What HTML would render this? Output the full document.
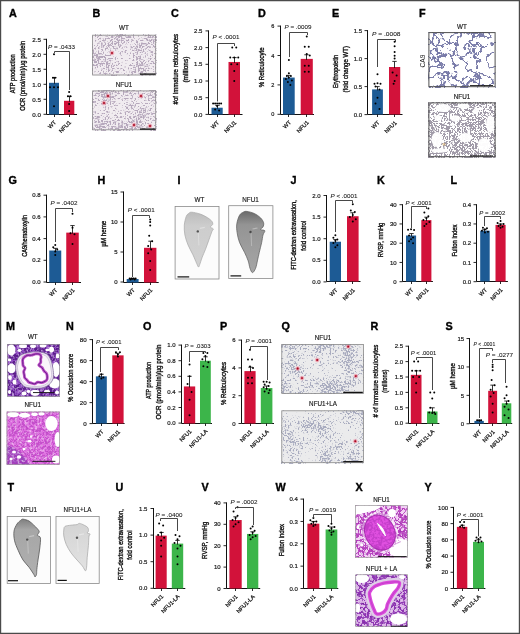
<!DOCTYPE html>
<html><head><meta charset="utf-8"><style>
html,body{margin:0;padding:0;background:#fff;}
svg{display:block;will-change:transform;filter:blur(0.3px);}
text{font-family:"Liberation Sans",sans-serif;fill:#1a1a1a;}
.pl{font-weight:bold;font-size:10.8px;fill:#000;stroke:#000;stroke-width:0.35px;}
.yl{stroke:#111;stroke-width:0.35px;fill:#111;}
.xl{stroke:#1a1a1a;stroke-width:0.25px;}
.pv{stroke:#1a1a1a;stroke-width:0.08px;}
.tk{stroke:#1a1a1a;stroke-width:0.2px;fill:#1a1a1a}
.im{stroke:#1a1a1a;stroke-width:0.15px;}
</style></head><body>
<svg width="520" height="634" viewBox="0 0 520 634">
<defs><filter id="smB" x="0" y="0" width="100%" height="100%" color-interpolation-filters="sRGB"><feTurbulence type="fractalNoise" baseFrequency="0.6" numOctaves="1" seed="11"/><feColorMatrix type="matrix" values="1 0 0 0 0  1 0 0 0 0  1 0 0 0 0  0 0 0 0 1" result="h"/><feTurbulence type="fractalNoise" baseFrequency="0.06" numOctaves="2" seed="18"/><feColorMatrix type="matrix" values="1 0 0 0 0  1 0 0 0 0  1 0 0 0 0  0 0 0 0 1" result="l"/><feComposite in="h" in2="l" operator="arithmetic" k1="0" k2="1" k3="0.4" k4="-0.4"/><feColorMatrix type="matrix" values="0 0 0 0 0  0 0 0 0 0  0 0 0 0 0  1 0 0 0 0"/><feComponentTransfer><feFuncA type="table" tableValues="0.00 0.00 0.00 0.00 0.00 0.00 0.00 0.00 0.00 0.00 0.00 0.00 0.00 0.00 0.00 0.00 0.06 0.18 0.29 0.41 0.53 0.64 0.70 0.70 0.70 0.70 0.70 0.70 0.70 0.70 0.70 0.70 0.70 0.70 0.70 0.70 0.70 0.70 0.70 0.70 0.70 0.70 0.70 0.70 0.70 0.70 0.70 0.70 0.70 0.70 0.70"/></feComponentTransfer><feGaussianBlur stdDeviation="0.2"/><feColorMatrix type="matrix" values="0 0 0 0 0.612  0 0 0 0 0.541  0 0 0 0 0.651  0 0 0 1 0"/></filter><filter id="smQ" x="0" y="0" width="100%" height="100%" color-interpolation-filters="sRGB"><feTurbulence type="fractalNoise" baseFrequency="0.6" numOctaves="1" seed="21"/><feColorMatrix type="matrix" values="1 0 0 0 0  1 0 0 0 0  1 0 0 0 0  0 0 0 0 1" result="h"/><feTurbulence type="fractalNoise" baseFrequency="0.05" numOctaves="2" seed="28"/><feColorMatrix type="matrix" values="1 0 0 0 0  1 0 0 0 0  1 0 0 0 0  0 0 0 0 1" result="l"/><feComposite in="h" in2="l" operator="arithmetic" k1="0" k2="1" k3="0.6" k4="-0.6"/><feColorMatrix type="matrix" values="0 0 0 0 0  0 0 0 0 0  0 0 0 0 0  1 0 0 0 0"/><feComponentTransfer><feFuncA type="table" tableValues="0.00 0.00 0.00 0.00 0.00 0.00 0.00 0.00 0.00 0.00 0.00 0.00 0.00 0.07 0.20 0.34 0.48 0.61 0.75 0.75 0.75 0.75 0.75 0.75 0.75 0.75 0.75 0.75 0.75 0.75 0.75 0.75 0.75 0.75 0.75 0.75 0.75 0.75 0.75 0.75 0.75 0.75 0.75 0.75 0.75 0.75 0.75 0.75 0.75 0.75 0.75"/></feComponentTransfer><feGaussianBlur stdDeviation="0.2"/><feColorMatrix type="matrix" values="0 0 0 0 0.573  0 0 0 0 0.588  0 0 0 0 0.690  0 0 0 1 0"/></filter><filter id="nWT" x="0" y="0" width="100%" height="100%" color-interpolation-filters="sRGB"><feTurbulence type="fractalNoise" baseFrequency="0.09" numOctaves="4" seed="3"/><feColorMatrix type="matrix" values="0 0 0 0 0  0 0 0 0 0  0 0 0 0 0  1 0 0 0 0"/><feComponentTransfer><feFuncA type="table" tableValues="0.00 0.00 0.00 0.00 0.00 0.00 0.00 0.00 0.00 0.00 0.00 0.00 0.00 0.00 0.00 0.00 0.00 0.00 0.00 0.00 0.00 0.00 0.00 0.00 0.00 0.00 0.00 0.00 0.71 0.85 0.85 0.85 0.71 0.00 0.00 0.00 0.00 0.00 0.00 0.00 0.00 0.00 0.00 0.00 0.00 0.00 0.00 0.00 0.00 0.00 0.00 0.00 0.00 0.00 0.00 0.00 0.00 0.00 0.00 0.00 0.00"/></feComponentTransfer><feGaussianBlur stdDeviation="0.25"/><feColorMatrix type="matrix" values="0 0 0 0 0.373  0 0 0 0 0.384  0 0 0 0 0.596  0 0 0 1 0"/></filter><filter id="nNF" x="0" y="0" width="100%" height="100%" color-interpolation-filters="sRGB"><feTurbulence type="fractalNoise" baseFrequency="0.38" numOctaves="2" seed="4"/><feColorMatrix type="matrix" values="0 0 0 0 0  0 0 0 0 0  0 0 0 0 0  1 0 0 0 0"/><feComponentTransfer><feFuncA type="table" tableValues="0.00 0.00 0.00 0.00 0.00 0.00 0.00 0.00 0.00 0.00 0.00 0.00 0.00 0.00 0.00 0.00 0.00 0.00 0.00 0.00 0.00 0.00 0.00 0.00 0.00 0.27 0.80 0.80 0.80 0.80 0.80 0.80 0.80 0.80 0.80 0.27 0.00 0.00 0.00 0.00 0.00 0.00 0.00 0.00 0.00 0.00 0.00 0.00 0.00 0.00 0.00 0.00 0.00 0.00 0.00 0.00 0.00 0.00 0.00 0.00 0.00"/></feComponentTransfer><feGaussianBlur stdDeviation="0.3"/><feColorMatrix type="matrix" values="0 0 0 0 0.541  0 0 0 0 0.510  0 0 0 0 0.580  0 0 0 1 0"/></filter><linearGradient id="lgD" x1="0" y1="0" x2="0" y2="1"><stop offset="0" stop-color="#6a6a6a"/><stop offset="0.22" stop-color="#949494"/><stop offset="1" stop-color="#a6a6a6"/></linearGradient><linearGradient id="lgT" x1="0" y1="0" x2="0" y2="1"><stop offset="0" stop-color="#808080"/><stop offset="0.18" stop-color="#a6a6a6"/><stop offset="1" stop-color="#b0b0b0"/></linearGradient><linearGradient id="lgL" x1="0" y1="0" x2="0" y2="1"><stop offset="0" stop-color="#bcbcbc"/><stop offset="0.25" stop-color="#cdcdcd"/><stop offset="1" stop-color="#d2d2d2"/></linearGradient><linearGradient id="lgLL" x1="0" y1="0" x2="0" y2="1"><stop offset="0" stop-color="#d4d4d4"/><stop offset="1" stop-color="#e2e2e2"/></linearGradient><filter id="heS" x="0" y="0" width="100%" height="100%" color-interpolation-filters="sRGB"><feTurbulence type="fractalNoise" baseFrequency="0.45" numOctaves="2" seed="5"/><feColorMatrix type="matrix" values="0 0 0 0 0  0 0 0 0 0  0 0 0 0 0  1 0 0 0 0"/><feComponentTransfer><feFuncA type="table" tableValues="0 0 0 0 0 0 0.3 0.8 1 1"/></feComponentTransfer><feColorMatrix type="matrix" values="0 0 0 0 0.290  0 0 0 0 0.063  0 0 0 0 0.439  0 0 0 1 0"/></filter><filter id="heL" x="0" y="0" width="100%" height="100%" color-interpolation-filters="sRGB"><feTurbulence type="fractalNoise" baseFrequency="0.4" numOctaves="2" seed="9"/><feColorMatrix type="matrix" values="0 0 0 0 0  0 0 0 0 0  0 0 0 0 0  1 0 0 0 0"/><feComponentTransfer><feFuncA type="table" tableValues="1 1 1 0.75 0.25 0 0 0 0 0"/></feComponentTransfer><feColorMatrix type="matrix" values="0 0 0 0 1.000  0 0 0 0 1.000  0 0 0 0 1.000  0 0 0 1 0"/></filter><filter id="hmW" x="0" y="0" width="100%" height="100%" color-interpolation-filters="sRGB"><feTurbulence type="fractalNoise" baseFrequency="0.2" numOctaves="3" seed="4"/><feColorMatrix type="matrix" values="0 0 0 0 0  0 0 0 0 0  0 0 0 0 0  1 0 0 0 0"/><feComponentTransfer><feFuncA type="table" tableValues="0.00 0.00 0.00 0.00 0.00 0.00 0.00 0.00 0.00 0.00 0.00 0.00 0.00 0.00 0.00 0.00 0.00 0.00 0.00 0.00 0.00 0.00 0.00 0.00 0.50 1.00 1.00 1.00 1.00 1.00 1.00 1.00 1.00 1.00 1.00 1.00 0.50 0.00 0.00 0.00 0.00 0.00 0.00 0.00 0.00 0.00 0.00 0.00 0.00 0.00 0.00 0.00 0.00 0.00 0.00 0.00 0.00 0.00 0.00 0.00 0.00"/></feComponentTransfer><feGaussianBlur stdDeviation="0.25"/><feColorMatrix type="matrix" values="0 0 0 0 0.353  0 0 0 0 0.102  0 0 0 0 0.549  0 0 0 1 0"/></filter><filter id="hmN" x="0" y="0" width="100%" height="100%" color-interpolation-filters="sRGB"><feTurbulence type="fractalNoise" baseFrequency="0.3" numOctaves="3" seed="6"/><feColorMatrix type="matrix" values="0 0 0 0 0  0 0 0 0 0  0 0 0 0 0  1 0 0 0 0"/><feComponentTransfer><feFuncA type="table" tableValues="0.00 0.00 0.00 0.00 0.00 0.00 0.00 0.00 0.00 0.00 0.00 0.00 0.00 0.00 0.00 0.00 0.00 0.00 0.00 0.00 0.00 0.00 0.00 0.00 0.00 0.33 1.00 1.00 1.00 1.00 1.00 1.00 1.00 1.00 1.00 0.33 0.00 0.00 0.00 0.00 0.00 0.00 0.00 0.00 0.00 0.00 0.00 0.00 0.00 0.00 0.00 0.00 0.00 0.00 0.00 0.00 0.00 0.00 0.00 0.00 0.00"/></feComponentTransfer><feGaussianBlur stdDeviation="0.25"/><feColorMatrix type="matrix" values="0 0 0 0 0.659  0 0 0 0 0.173  0 0 0 0 0.706  0 0 0 1 0"/></filter><filter id="hmX" x="0" y="0" width="100%" height="100%" color-interpolation-filters="sRGB"><feTurbulence type="fractalNoise" baseFrequency="0.22" numOctaves="3" seed="8"/><feColorMatrix type="matrix" values="0 0 0 0 0  0 0 0 0 0  0 0 0 0 0  1 0 0 0 0"/><feComponentTransfer><feFuncA type="table" tableValues="0.00 0.00 0.00 0.00 0.00 0.00 0.00 0.00 0.00 0.00 0.00 0.00 0.00 0.00 0.00 0.00 0.00 0.00 0.00 0.00 0.00 0.00 0.00 0.00 0.00 0.83 1.00 1.00 1.00 1.00 1.00 1.00 1.00 1.00 1.00 0.83 0.00 0.00 0.00 0.00 0.00 0.00 0.00 0.00 0.00 0.00 0.00 0.00 0.00 0.00 0.00 0.00 0.00 0.00 0.00 0.00 0.00 0.00 0.00 0.00 0.00"/></feComponentTransfer><feGaussianBlur stdDeviation="0.25"/><feColorMatrix type="matrix" values="0 0 0 0 0.690  0 0 0 0 0.188  0 0 0 0 0.722  0 0 0 1 0"/></filter><filter id="hmL" x="0" y="0" width="100%" height="100%" color-interpolation-filters="sRGB"><feTurbulence type="fractalNoise" baseFrequency="0.22" numOctaves="3" seed="12"/><feColorMatrix type="matrix" values="0 0 0 0 0  0 0 0 0 0  0 0 0 0 0  1 0 0 0 0"/><feComponentTransfer><feFuncA type="table" tableValues="0.00 0.00 0.00 0.00 0.00 0.00 0.00 0.00 0.00 0.00 0.00 0.00 0.00 0.00 0.00 0.00 0.00 0.00 0.00 0.00 0.00 0.00 0.00 0.00 0.25 1.00 1.00 1.00 1.00 1.00 1.00 1.00 1.00 1.00 1.00 1.00 0.25 0.00 0.00 0.00 0.00 0.00 0.00 0.00 0.00 0.00 0.00 0.00 0.00 0.00 0.00 0.00 0.00 0.00 0.00 0.00 0.00 0.00 0.00 0.00 0.00"/></feComponentTransfer><feGaussianBlur stdDeviation="0.25"/><feColorMatrix type="matrix" values="0 0 0 0 0.541  0 0 0 0 0.180  0 0 0 0 0.690  0 0 0 1 0"/></filter><clipPath id="cmw"><rect x="7" y="344" width="52.8" height="52.8"/></clipPath><clipPath id="cmn"><rect x="6.6" y="411.6" width="53.2" height="53.2"/></clipPath><clipPath id="cxn"><rect x="355.2" y="505.2" width="52.6" height="52.6"/></clipPath><clipPath id="cxl"><rect x="355.4" y="574.4" width="52.4" height="52.4"/></clipPath></defs>
<rect x="0" y="0" width="520" height="634" fill="#fff"/>
<rect x="92.2" y="34.8" width="63.9" height="40.6" fill="#f1ecf0" /><rect x="92.2" y="34.8" width="63.9" height="40.6" fill="#000" filter="url(#smB)"/><circle cx="112" cy="53" r="2.4" fill="#eea0b0" opacity="0.55"/><circle cx="112" cy="53" r="1.5" fill="#e05068" opacity="0.7"/><circle cx="112" cy="53" r="0.9" fill="#a00c22"/><rect x="92.6" y="35.2" width="63.1" height="39.8" fill="none" stroke="#8a8a8a" stroke-width="0.8"/><rect x="140" y="73.45" width="15.5" height="1.3" fill="#111"/><rect x="92.2" y="90.5" width="63.9" height="39.7" fill="#f1ecf0" /><rect x="92.2" y="90.5" width="63.9" height="39.7" fill="#000" filter="url(#smB)"/><circle cx="108" cy="96" r="2.4" fill="#eea0b0" opacity="0.55"/><circle cx="108" cy="96" r="1.5" fill="#e05068" opacity="0.7"/><circle cx="108" cy="96" r="0.9" fill="#a00c22"/><circle cx="104" cy="103" r="2.4" fill="#eea0b0" opacity="0.55"/><circle cx="104" cy="103" r="1.5" fill="#e05068" opacity="0.7"/><circle cx="104" cy="103" r="0.9" fill="#a00c22"/><circle cx="141" cy="96" r="2.4" fill="#eea0b0" opacity="0.55"/><circle cx="141" cy="96" r="1.5" fill="#e05068" opacity="0.7"/><circle cx="141" cy="96" r="0.9" fill="#a00c22"/><circle cx="134" cy="125" r="2.4" fill="#eea0b0" opacity="0.55"/><circle cx="134" cy="125" r="1.5" fill="#e05068" opacity="0.7"/><circle cx="134" cy="125" r="0.9" fill="#a00c22"/><circle cx="150" cy="126" r="2.4" fill="#eea0b0" opacity="0.55"/><circle cx="150" cy="126" r="1.5" fill="#e05068" opacity="0.7"/><circle cx="150" cy="126" r="0.9" fill="#a00c22"/><rect x="92.6" y="90.9" width="63.1" height="38.9" fill="none" stroke="#8a8a8a" stroke-width="0.8"/><rect x="140" y="128.45" width="15.5" height="1.3" fill="#111"/><text class="im" x="124" y="30" text-anchor="middle" font-size="6.3">WT</text><text class="im" x="124" y="86.5" text-anchor="middle" font-size="6.3">NFU1</text><rect x="281.4" y="344" width="82.4" height="49.8" fill="#ebebec" /><rect x="281.4" y="344" width="82.4" height="49.8" fill="#000" filter="url(#smQ)"/><circle cx="348.2" cy="346.6" r="2.4" fill="#eea0b0" opacity="0.55"/><circle cx="348.2" cy="346.6" r="1.5" fill="#e05068" opacity="0.7"/><circle cx="348.2" cy="346.6" r="0.9" fill="#a00c22"/><circle cx="317.2" cy="360" r="2.4" fill="#eea0b0" opacity="0.55"/><circle cx="317.2" cy="360" r="1.5" fill="#e05068" opacity="0.7"/><circle cx="317.2" cy="360" r="0.9" fill="#a00c22"/><circle cx="297.7" cy="368.5" r="2.4" fill="#eea0b0" opacity="0.55"/><circle cx="297.7" cy="368.5" r="1.5" fill="#e05068" opacity="0.7"/><circle cx="297.7" cy="368.5" r="0.9" fill="#a00c22"/><circle cx="302" cy="378.1" r="2.4" fill="#eea0b0" opacity="0.55"/><circle cx="302" cy="378.1" r="1.5" fill="#e05068" opacity="0.7"/><circle cx="302" cy="378.1" r="0.9" fill="#a00c22"/><circle cx="355.8" cy="376.1" r="2.4" fill="#eea0b0" opacity="0.55"/><circle cx="355.8" cy="376.1" r="1.5" fill="#e05068" opacity="0.7"/><circle cx="355.8" cy="376.1" r="0.9" fill="#a00c22"/><rect x="281.8" y="344.4" width="81.6" height="49" fill="none" stroke="#8a8a8a" stroke-width="0.8"/><rect x="343.2" y="391.75" width="19.6" height="1.3" fill="#111"/><rect x="281.4" y="410.4" width="82.4" height="52.7" fill="#ebebec" /><rect x="281.4" y="410.4" width="82.4" height="52.7" fill="#000" filter="url(#smQ)"/><circle cx="355.3" cy="441.2" r="2.4" fill="#eea0b0" opacity="0.55"/><circle cx="355.3" cy="441.2" r="1.5" fill="#e05068" opacity="0.7"/><circle cx="355.3" cy="441.2" r="0.9" fill="#a00c22"/><rect x="281.8" y="410.8" width="81.6" height="51.9" fill="none" stroke="#8a8a8a" stroke-width="0.8"/><rect x="343.2" y="461.05" width="19.6" height="1.3" fill="#111"/><text class="im" x="323" y="339.8" text-anchor="middle" font-size="6.3">NFU1</text><text class="im" x="323" y="405.9" text-anchor="middle" font-size="6.3">NFU1+LA</text><rect x="428.4" y="32.1" width="67.2" height="55.1" fill="#fff" /><rect x="428.4" y="32.1" width="67.2" height="55.1" fill="#000" filter="url(#nWT)"/><rect x="428.9" y="32.6" width="66.2" height="54.1" fill="none" stroke="#505050" stroke-width="1"/><rect x="470" y="85.15" width="23" height="0.9" fill="#111"/><rect x="428.4" y="102.4" width="67.2" height="54.8" fill="#fff" /><rect x="428.4" y="102.4" width="67.2" height="54.8" fill="#000" filter="url(#nNF)"/><g fill="#fff" opacity="0.97"><ellipse cx="443" cy="108" rx="8" ry="4"/><ellipse cx="463.5" cy="106.2" rx="6" ry="2.6"/><ellipse cx="438" cy="118" rx="3.5" ry="3"/><ellipse cx="455.4" cy="118.5" rx="4.5" ry="3.2"/><ellipse cx="475.4" cy="111.5" rx="3" ry="2.6"/><ellipse cx="490.3" cy="124" rx="4.2" ry="9"/><ellipse cx="437" cy="139.5" rx="5.5" ry="7.5"/><ellipse cx="465.4" cy="137.7" rx="6.5" ry="4.8"/><ellipse cx="484" cy="145" rx="6.5" ry="7"/><ellipse cx="440" cy="150.5" rx="9" ry="2.2"/></g><circle cx="444" cy="144.3" r="1.5" fill="#d8b070" opacity="0.6"/><rect x="428.9" y="102.9" width="66.2" height="53.8" fill="none" stroke="#505050" stroke-width="1"/><rect x="470" y="155.45" width="23" height="0.9" fill="#111"/><text class="im" x="462" y="28.5" text-anchor="middle" font-size="6.3">WT</text><text class="im" x="462" y="99" text-anchor="middle" font-size="6.3">NFU1</text><text transform="translate(424.5,61) rotate(-90)" text-anchor="middle" font-size="6.6">CA9</text><rect x="174.7" y="206.1" width="44.7" height="73.3" fill="#fcfcfc" /><path d="M191.7,212.2C193.65,212.3 197.63,213.17 200.3,214.1C202.97,215.03 205.75,216.57 207.7,217.8C209.65,219.03 211.18,220.37 212,221.5C212.82,222.63 212.9,223.68 212.6,224.6C212.3,225.52 210.08,226.28 210.2,227C210.32,227.72 213,228.18 213.3,228.9C213.6,229.62 212.73,229.47 212,231.3C211.27,233.13 210.02,236.82 208.9,239.9C207.78,242.98 206.42,246.92 205.3,249.8C204.18,252.68 203.13,254.73 202.2,257.2C201.27,259.67 200.32,262.97 199.7,264.6C199.08,266.23 199.02,267.22 198.5,267C197.98,266.78 197.53,265.35 196.6,263.3C195.67,261.25 194.33,257.77 192.9,254.7C191.47,251.63 189.33,248.18 188,244.9C186.67,241.62 185.52,238.28 184.9,235C184.28,231.72 184.08,228.28 184.3,225.2C184.52,222.12 185.48,218.45 186.2,216.5C186.92,214.55 187.68,214.22 188.6,213.5C189.52,212.78 189.75,212.1 191.7,212.2Z" fill="url(#lgL)" stroke="#a8a8a8" stroke-width="0.7"/><path d="M198.3,231.4l0.6,14" stroke="#fff" stroke-opacity="0.3" stroke-width="0.9" fill="none"/><path d="M199.8,228.4l5,-1" stroke="#fff" stroke-opacity="0.35" stroke-width="1.2" fill="none"/><circle cx="197.8" cy="231.4" r="1.2" fill="#333" opacity="0.8"/><rect x="175.1" y="206.5" width="43.9" height="72.5" fill="none" stroke="#8a8a8a" stroke-width="0.8"/><rect x="177.5" y="276.3" width="11.7" height="1.2" fill="#111"/><rect x="228.3" y="205.3" width="45" height="73.5" fill="#fcfcfc" /><path d="M246.9,211.4C248.75,211.62 252.03,212.43 254.3,213.5C256.57,214.57 258.95,216.27 260.5,217.8C262.05,219.33 263.18,221.17 263.6,222.7C264.02,224.23 263.52,225.87 263,227C262.48,228.13 260.2,228.88 260.5,229.5C260.8,230.12 264.38,229.78 264.8,230.7C265.22,231.62 263.52,233.05 263,235C262.48,236.95 262.32,239.52 261.7,242.4C261.08,245.28 260.02,249.22 259.3,252.3C258.58,255.38 258.02,258.23 257.4,260.9C256.78,263.57 256.42,266.35 255.6,268.3C254.78,270.25 253.43,272.6 252.5,272.6C251.57,272.6 250.72,270.25 250,268.3C249.28,266.35 249.12,263.57 248.2,260.9C247.28,258.23 245.95,255.38 244.5,252.3C243.05,249.22 240.73,245.68 239.5,242.4C238.27,239.12 237.55,235.68 237.1,232.6C236.65,229.52 236.4,226.78 236.8,223.9C237.2,221.02 238.43,217.25 239.5,215.3C240.57,213.35 241.97,212.85 243.2,212.2C244.43,211.55 245.05,211.18 246.9,211.4Z" fill="url(#lgD)" stroke="#5a5a5a" stroke-width="0.7"/><path d="M251,232l0.6,14" stroke="#fff" stroke-opacity="0.3" stroke-width="0.9" fill="none"/><path d="M252.5,229l5,-1" stroke="#fff" stroke-opacity="0.35" stroke-width="1.2" fill="none"/><circle cx="250.5" cy="232" r="1.2" fill="#333" opacity="0.8"/><rect x="228.7" y="205.7" width="44.2" height="72.7" fill="none" stroke="#8a8a8a" stroke-width="0.8"/><rect x="230.5" y="275.3" width="10.7" height="1.2" fill="#111"/><text class="im" x="199.5" y="202" text-anchor="middle" font-size="6.3">WT</text><text class="im" x="250.5" y="202" text-anchor="middle" font-size="6.3">NFU1</text><rect x="6.8" y="516.2" width="44.1" height="67.6" fill="#fcfcfc" /><path d="M23,519.2C24.4,519.3 27.2,520 29,521C30.8,522 32.4,523.9 33.8,525.2C35.2,526.5 36.5,527.7 37.4,528.8C38.3,529.9 39.2,530.7 39.2,531.8C39.2,532.9 37.2,534.4 37.4,535.4C37.6,536.4 40,535.7 40.4,537.8C40.8,539.9 40.2,544.3 39.8,548C39.4,551.7 38.5,556.4 38,560C37.5,563.6 37.05,567.2 36.8,569.6C36.55,572 36.8,573.2 36.5,574.4C36.2,575.6 35.45,576.8 35,576.8C34.55,576.8 34.8,576 33.8,574.4C32.8,572.8 30.8,569.6 29,567.2C27.2,564.8 24.8,562.8 23,560C21.2,557.2 19.6,553.6 18.2,550.4C16.8,547.2 15.3,544 14.6,540.8C13.9,537.6 13.6,534 14,531.2C14.4,528.4 15.9,525.8 17,524C18.1,522.2 19.6,521.2 20.6,520.4C21.6,519.6 21.6,519.1 23,519.2Z" fill="url(#lgT)" stroke="#555" stroke-width="0.8"/><path d="M27.7,539.6l0.6,14" stroke="#fff" stroke-opacity="0.3" stroke-width="0.9" fill="none"/><path d="M29.2,536.6l5,-1" stroke="#fff" stroke-opacity="0.35" stroke-width="1.2" fill="none"/><circle cx="27.2" cy="539.6" r="1.2" fill="#333" opacity="0.8"/><rect x="7.2" y="516.6" width="43.3" height="66.8" fill="none" stroke="#8a8a8a" stroke-width="0.8"/><rect x="8" y="580.1" width="10" height="1.2" fill="#111"/><rect x="55.6" y="516.2" width="44" height="67.6" fill="#fcfcfc" /><path d="M65,526.4C66.2,525.6 69,525.5 71,525.2C73,524.9 75.6,524.9 77,524.6C78.4,524.3 78.2,523.3 79.4,523.4C80.6,523.5 82.8,524.5 84.2,525.2C85.6,525.9 87.1,526.6 87.8,527.6C88.5,528.6 88.5,530.3 88.4,531.2C88.3,532.1 86.9,532.5 87.2,533C87.5,533.5 89.9,533.7 90.2,534.2C90.5,534.7 89.3,534.1 89,536C88.7,537.9 88.7,542 88.4,545.6C88.1,549.2 87.5,554 87.2,557.6C86.9,561.2 86.9,565 86.6,567.2C86.3,569.4 86.1,571 85.4,570.8C84.7,570.6 83.8,567.8 82.4,566C81,564.2 78.9,562.2 77,560C75.1,557.8 72.8,555.4 71,552.8C69.2,550.2 67.4,547.2 66.2,544.4C65,541.6 64.2,538.4 63.8,536C63.4,533.6 63.6,531.6 63.8,530C64,528.4 63.8,527.2 65,526.4Z" fill="url(#lgLL)" stroke="#a5a5a5" stroke-width="0.7"/><path d="M77.5,537.8l0.6,14" stroke="#fff" stroke-opacity="0.3" stroke-width="0.9" fill="none"/><path d="M79,534.8l5,-1" stroke="#fff" stroke-opacity="0.35" stroke-width="1.2" fill="none"/><circle cx="77" cy="537.8" r="1.2" fill="#333" opacity="0.8"/><rect x="56" y="516.6" width="43.2" height="66.8" fill="none" stroke="#8a8a8a" stroke-width="0.8"/><rect x="57.6" y="579.8" width="9.2" height="1.2" fill="#111"/><text class="im" x="28.9" y="511.5" text-anchor="middle" font-size="6.3">NFU1</text><text class="im" x="77.5" y="511.5" text-anchor="middle" font-size="6.3">NFU1+LA</text><g clip-path="url(#cmw)"><rect x="7" y="344" width="52.8" height="52.8" fill="#8f4ac2" /><rect x="7" y="344" width="52.8" height="52.8" fill="#000" filter="url(#hmW)" opacity="0.95"/><rect x="7" y="344" width="52.8" height="52.8" fill="#000" filter="url(#heS)" opacity="0.55"/><rect x="7" y="344" width="52.8" height="52.8" fill="#000" filter="url(#heL)" opacity="0.5"/><ellipse cx="11.3" cy="350" rx="4.2" ry="5.8" fill="#fff"/><ellipse cx="11.5" cy="368.5" rx="4.2" ry="4.8" fill="#fff"/><ellipse cx="23" cy="346" rx="4" ry="2.2" fill="#fff"/><ellipse cx="33" cy="346.2" rx="3" ry="1.8" fill="#fff"/><ellipse cx="43" cy="345.8" rx="3.5" ry="1.8" fill="#fff"/><ellipse cx="51.5" cy="349.5" rx="2.5" ry="3" fill="#fff"/><ellipse cx="56" cy="369.5" rx="3.8" ry="7.5" fill="#fff"/><ellipse cx="54.5" cy="383.5" rx="5.5" ry="5" fill="#fff"/><ellipse cx="35" cy="392.8" rx="4.5" ry="3" fill="#fff"/><ellipse cx="24" cy="393.5" rx="2.5" ry="2" fill="#fff"/><ellipse cx="14.5" cy="382" rx="2" ry="2.5" fill="#fff"/><ellipse cx="9.5" cy="392" rx="1.5" ry="2" fill="#fff"/><ellipse cx="9.5" cy="360" rx="1.8" ry="1.4" fill="#fff"/><ellipse cx="19.5" cy="350.5" rx="2" ry="1.4" fill="#fff"/><ellipse cx="47.5" cy="350" rx="2" ry="1.3" fill="#fff"/><ellipse cx="57.5" cy="356" rx="1.8" ry="2.5" fill="#fff"/><ellipse cx="47" cy="391.5" rx="3" ry="1.8" fill="#fff"/><ellipse cx="10" cy="377.5" rx="1.8" ry="2.6" fill="#fff"/><ellipse cx="28.5" cy="391.5" rx="2" ry="1.4" fill="#fff"/><ellipse cx="57" cy="392.5" rx="2" ry="2" fill="#fff"/><path d="M16,364C16.55,361.63 17.48,358.13 19.3,356.3C21.12,354.47 23.8,353.73 26.9,353C30,352.27 34.6,351.72 37.9,351.9C41.2,352.08 44.52,352.65 46.7,354.1C48.88,355.55 49.92,357.87 51,360.6C52.08,363.33 52.83,367.57 53.2,370.5C53.57,373.43 53.92,375.82 53.2,378.2C52.48,380.58 50.9,383.17 48.9,384.8C46.9,386.43 44.13,387.47 41.2,388C38.27,388.53 34.23,388.35 31.3,388C28.37,387.65 25.78,387.53 23.6,385.9C21.42,384.27 19.47,380.77 18.2,378.2C16.93,375.63 16.37,372.87 16,370.5C15.63,368.13 15.45,366.37 16,364Z" fill="#f9f5fa" stroke="#7f6a9a" stroke-width="0.8"/><path d="M17.8,364.6C18.3,362.47 19.13,359.32 20.77,357.67C22.41,356.02 24.82,355.36 27.61,354.7C30.4,354.04 34.54,353.54 37.51,353.71C40.48,353.88 43.47,354.38 45.43,355.69C47.39,357 48.32,359.08 49.3,361.54C50.27,364 50.95,367.81 51.28,370.45C51.61,373.09 51.93,375.24 51.28,377.38C50.63,379.52 49.21,381.85 47.41,383.32C45.61,384.79 43.12,385.72 40.48,386.2C37.84,386.68 34.21,386.51 31.57,386.2C28.93,385.88 26.61,385.78 24.64,384.31C22.68,382.84 20.92,379.69 19.78,377.38C18.64,375.07 18.13,372.58 17.8,370.45C17.47,368.32 17.3,366.73 17.8,364.6Z" fill="none" stroke="#a994bc" stroke-width="0.5"/><path d="M16.9,364.3C17.42,362.05 18.31,358.73 20.04,356.99C21.76,355.24 24.31,354.55 27.25,353.85C30.2,353.15 34.57,352.63 37.7,352.8C40.84,352.98 43.99,353.52 46.07,354.9C48.14,356.27 49.12,358.47 50.15,361.07C51.18,363.67 51.89,367.69 52.24,370.48C52.59,373.26 52.92,375.53 52.24,377.79C51.56,380.05 50.05,382.51 48.16,384.06C46.26,385.61 43.63,386.59 40.84,387.1C38.05,387.61 34.22,387.43 31.44,387.1C28.65,386.77 26.19,386.66 24.12,385.1C22.05,383.55 20.19,380.23 18.99,377.79C17.79,375.35 17.25,372.72 16.9,370.48C16.55,368.23 16.38,366.55 16.9,364.3Z" fill="none" stroke="#c8b8d8" stroke-width="0.4"/><path d="M23.72,357.73C24.48,356.96 25.96,355.8 27.23,355.38C28.49,354.96 29.93,355.46 31.34,355.22C32.74,354.98 34.3,354.11 35.68,353.94C37.05,353.77 38.69,353.74 39.6,354.2C40.51,354.66 40.95,355.85 41.13,356.7C41.31,357.55 40.74,358.32 40.67,359.29C40.59,360.25 41,361.49 40.69,362.48C40.37,363.48 38.55,364.4 38.76,365.24C38.97,366.08 41.11,366.6 41.97,367.53C42.83,368.45 43.15,369.78 43.92,370.79C44.69,371.8 46.03,372.58 46.58,373.58C47.14,374.59 47.18,375.85 47.25,376.82C47.31,377.8 47.25,378.74 46.97,379.43C46.68,380.13 46.39,380.48 45.53,381.02C44.68,381.55 43.12,382.45 41.84,382.65C40.55,382.85 39.02,382.01 37.83,382.21C36.65,382.41 35.74,383.68 34.71,383.84C33.69,384 32.67,383.41 31.71,383.16C30.74,382.9 29.67,382.79 28.91,382.3C28.16,381.81 27.85,380.97 27.17,380.24C26.48,379.51 25.28,378.79 24.8,377.92C24.32,377.05 24.47,376.08 24.28,375.01C24.1,373.95 23.57,372.67 23.7,371.52C23.83,370.38 25.15,369.12 25.06,368.15C24.97,367.19 23.53,366.61 23.16,365.73C22.78,364.85 22.89,363.81 22.81,362.86C22.72,361.91 22.51,360.88 22.66,360.02C22.82,359.17 22.96,358.51 23.72,357.73Z" fill="#fff" stroke="#c04cc8" stroke-width="2.8"/><path d="M23.72,357.73C24.48,356.96 25.96,355.8 27.23,355.38C28.49,354.96 29.93,355.46 31.34,355.22C32.74,354.98 34.3,354.11 35.68,353.94C37.05,353.77 38.69,353.74 39.6,354.2C40.51,354.66 40.95,355.85 41.13,356.7C41.31,357.55 40.74,358.32 40.67,359.29C40.59,360.25 41,361.49 40.69,362.48C40.37,363.48 38.55,364.4 38.76,365.24C38.97,366.08 41.11,366.6 41.97,367.53C42.83,368.45 43.15,369.78 43.92,370.79C44.69,371.8 46.03,372.58 46.58,373.58C47.14,374.59 47.18,375.85 47.25,376.82C47.31,377.8 47.25,378.74 46.97,379.43C46.68,380.13 46.39,380.48 45.53,381.02C44.68,381.55 43.12,382.45 41.84,382.65C40.55,382.85 39.02,382.01 37.83,382.21C36.65,382.41 35.74,383.68 34.71,383.84C33.69,384 32.67,383.41 31.71,383.16C30.74,382.9 29.67,382.79 28.91,382.3C28.16,381.81 27.85,380.97 27.17,380.24C26.48,379.51 25.28,378.79 24.8,377.92C24.32,377.05 24.47,376.08 24.28,375.01C24.1,373.95 23.57,372.67 23.7,371.52C23.83,370.38 25.15,369.12 25.06,368.15C24.97,367.19 23.53,366.61 23.16,365.73C22.78,364.85 22.89,363.81 22.81,362.86C22.72,361.91 22.51,360.88 22.66,360.02C22.82,359.17 22.96,358.51 23.72,357.73Z" fill="none" stroke="#5a1f82" stroke-width="0.9"/></g><rect x="7.35" y="344.35" width="52.1" height="52.1" fill="none" stroke="#9a9a9a" stroke-width="0.7"/><rect x="33" y="392.15" width="21.5" height="0.9" fill="#111"/><g clip-path="url(#cmn)"><rect x="6.6" y="411.6" width="53.2" height="53.2" fill="#de6ee0" /><path d="M6.6,445 Q20,448 30,465 L6.6,465Z" fill="#a048c0"/><rect x="6.6" y="411.6" width="53.2" height="53.2" fill="#000" filter="url(#hmN)" opacity="0.45"/><rect x="6.6" y="411.6" width="53.2" height="53.2" fill="#000" filter="url(#heS)" opacity="0.12"/><rect x="6.6" y="411.6" width="53.2" height="53.2" fill="#000" filter="url(#heL)" opacity="0.5"/><ellipse cx="13" cy="414.5" rx="6" ry="2.8" fill="#fff"/><ellipse cx="24.5" cy="415.3" rx="5.5" ry="2.5" fill="#fff"/><ellipse cx="34.5" cy="414.2" rx="3.3" ry="1.8" fill="#fff"/><ellipse cx="41.5" cy="413.8" rx="3" ry="1.8" fill="#fff"/><ellipse cx="51.5" cy="423.5" rx="6.2" ry="7.5" fill="#fff"/><ellipse cx="57.8" cy="439.5" rx="3.2" ry="7.5" fill="#fff"/><ellipse cx="56" cy="459.5" rx="4" ry="4" fill="#fff"/><ellipse cx="14" cy="452" rx="2" ry="1.6" fill="#fff"/><ellipse cx="19" cy="457" rx="2.2" ry="1.8" fill="#fff"/><ellipse cx="11" cy="459" rx="1.5" ry="1.5" fill="#fff"/><ellipse cx="24" cy="449" rx="1.5" ry="1.2" fill="#fff"/><ellipse cx="29.5" cy="441.3" rx="2" ry="1.3" fill="#fff"/><ellipse cx="31" cy="436.5" rx="0.9" ry="1.5" fill="#fff"/></g><rect x="6.95" y="411.95" width="52.5" height="52.5" fill="none" stroke="#9a9a9a" stroke-width="0.7"/><rect x="32.4" y="460.85" width="23" height="0.9" fill="#111"/><g clip-path="url(#cxn)"><rect x="355.2" y="505.2" width="52.6" height="52.6" fill="#f2cef4" /><rect x="355.2" y="505.2" width="52.6" height="52.6" fill="#000" filter="url(#hmX)" opacity="0.9"/><rect x="355.2" y="505.2" width="52.6" height="52.6" fill="#000" filter="url(#heS)" opacity="0.25"/><rect x="355.2" y="505.2" width="52.6" height="52.6" fill="#000" filter="url(#heL)" opacity="0.3"/><path d="M355.7,505.7C359.63,504.32 375.75,505.07 379.3,505.7C382.85,506.33 379.22,508.37 377,509.5C374.78,510.63 369.55,511.75 366,512.5C362.45,513.25 357.42,515.13 355.7,514C353.98,512.87 351.77,507.08 355.7,505.7Z" fill="#fff"/><ellipse cx="391.9" cy="513.2" rx="3.8" ry="4.1" fill="#fff"/><path d="M387,541C388.17,539.5 392.53,539 396,539C399.47,539 405.83,538.23 407.8,541C409.77,543.77 410.43,553.17 407.8,555.6C405.17,558.03 395.13,556.87 392,555.6C388.87,554.33 389.83,550.43 389,548C388.17,545.57 385.83,542.5 387,541Z" fill="#fff"/><ellipse cx="358" cy="527" rx="1.5" ry="2" fill="#fff"/><ellipse cx="362" cy="545" rx="1.5" ry="1.5" fill="#fff"/><ellipse cx="379.9" cy="532.6" rx="17.5" ry="20.8" transform="rotate(-25 379.9 532.6)" fill="#fff" opacity="0.55"/><ellipse cx="379.9" cy="532.6" rx="14.8" ry="18" transform="rotate(-25 379.9 532.6)" fill="#e050e0"/><ellipse cx="379.9" cy="532.6" rx="14.8" ry="18" transform="rotate(-25 379.9 532.6)" fill="#000" filter="url(#hmN)" opacity="0.5"/><ellipse cx="379.9" cy="532.6" rx="14.8" ry="18" transform="rotate(-25 379.9 532.6)" fill="none" stroke="#a82cb0" stroke-width="1"/><path d="M377.5,523.5 Q384,528 385.5,536 Q381.5,531 377.5,523.5Z" fill="#fff" stroke="#fff" stroke-width="1"/></g><rect x="355.55" y="505.55" width="51.9" height="51.9" fill="none" stroke="#9a9a9a" stroke-width="0.7"/><rect x="378.2" y="556.05" width="28.5" height="0.9" fill="#111"/><g clip-path="url(#cxl)"><rect x="355.4" y="574.4" width="52.4" height="52.4" fill="#dcb4e8" /><rect x="355.4" y="574.4" width="52.4" height="52.4" fill="#000" filter="url(#hmL)" opacity="0.95"/><rect x="355.4" y="574.4" width="52.4" height="52.4" fill="#000" filter="url(#heS)" opacity="0.35"/><rect x="355.4" y="574.4" width="52.4" height="52.4" fill="#000" filter="url(#heL)" opacity="0.3"/><ellipse cx="362" cy="578.5" rx="7" ry="4.5" fill="#fff"/><ellipse cx="357.5" cy="608" rx="2.5" ry="4.5" fill="#fff"/><ellipse cx="398.5" cy="619" rx="8.5" ry="5.8" fill="#fff"/><ellipse cx="402" cy="577" rx="3" ry="2" fill="#fff"/><path d="M369.59,592.52C370.27,590.56 371.97,588.25 374.34,586.69C376.72,585.12 380.68,583.92 383.85,583.12C387.01,582.33 390.78,582.04 393.35,581.94C395.92,581.83 398.5,581.5 399.29,582.48C400.08,583.45 399.09,585.9 398.1,587.77C397.11,589.64 394.74,591.73 393.35,593.71C391.96,595.69 390.78,597.87 389.79,599.65C388.8,601.43 388,602.82 387.41,604.4C386.82,605.98 387.01,607.77 386.22,609.15C385.43,610.54 384.24,611.92 382.66,612.72C381.07,613.51 378.1,614.3 376.72,613.9C375.33,613.51 375.13,611.92 374.34,610.34C373.55,608.76 372.65,606.38 371.97,604.4C371.28,602.42 370.63,600.44 370.24,598.46C369.84,596.48 368.91,594.48 369.59,592.52Z" fill="none" stroke="#f6eef8" stroke-width="8"/><path d="M369.59,592.52C370.27,590.56 371.97,588.25 374.34,586.69C376.72,585.12 380.68,583.92 383.85,583.12C387.01,582.33 390.78,582.04 393.35,581.94C395.92,581.83 398.5,581.5 399.29,582.48C400.08,583.45 399.09,585.9 398.1,587.77C397.11,589.64 394.74,591.73 393.35,593.71C391.96,595.69 390.78,597.87 389.79,599.65C388.8,601.43 388,602.82 387.41,604.4C386.82,605.98 387.01,607.77 386.22,609.15C385.43,610.54 384.24,611.92 382.66,612.72C381.07,613.51 378.1,614.3 376.72,613.9C375.33,613.51 375.13,611.92 374.34,610.34C373.55,608.76 372.65,606.38 371.97,604.4C371.28,602.42 370.63,600.44 370.24,598.46C369.84,596.48 368.91,594.48 369.59,592.52Z" fill="none" stroke="#9a70b8" stroke-width="8.4" stroke-opacity="0.25"/><path d="M369.59,592.52C370.27,590.56 371.97,588.25 374.34,586.69C376.72,585.12 380.68,583.92 383.85,583.12C387.01,582.33 390.78,582.04 393.35,581.94C395.92,581.83 398.5,581.5 399.29,582.48C400.08,583.45 399.09,585.9 398.1,587.77C397.11,589.64 394.74,591.73 393.35,593.71C391.96,595.69 390.78,597.87 389.79,599.65C388.8,601.43 388,602.82 387.41,604.4C386.82,605.98 387.01,607.77 386.22,609.15C385.43,610.54 384.24,611.92 382.66,612.72C381.07,613.51 378.1,614.3 376.72,613.9C375.33,613.51 375.13,611.92 374.34,610.34C373.55,608.76 372.65,606.38 371.97,604.4C371.28,602.42 370.63,600.44 370.24,598.46C369.84,596.48 368.91,594.48 369.59,592.52Z" fill="#fff" stroke="#dc48dc" stroke-width="3.4"/><path d="M369.59,592.52C370.27,590.56 371.97,588.25 374.34,586.69C376.72,585.12 380.68,583.92 383.85,583.12C387.01,582.33 390.78,582.04 393.35,581.94C395.92,581.83 398.5,581.5 399.29,582.48C400.08,583.45 399.09,585.9 398.1,587.77C397.11,589.64 394.74,591.73 393.35,593.71C391.96,595.69 390.78,597.87 389.79,599.65C388.8,601.43 388,602.82 387.41,604.4C386.82,605.98 387.01,607.77 386.22,609.15C385.43,610.54 384.24,611.92 382.66,612.72C381.07,613.51 378.1,614.3 376.72,613.9C375.33,613.51 375.13,611.92 374.34,610.34C373.55,608.76 372.65,606.38 371.97,604.4C371.28,602.42 370.63,600.44 370.24,598.46C369.84,596.48 368.91,594.48 369.59,592.52Z" fill="none" stroke="#b23cc0" stroke-width="0.6"/></g><rect x="355.75" y="574.75" width="51.7" height="51.7" fill="none" stroke="#9a9a9a" stroke-width="0.7"/><rect x="391" y="625.75" width="16" height="0.9" fill="#111"/><text class="im" x="32.8" y="338.6" text-anchor="middle" font-size="6.3">WT</text><text class="im" x="32.8" y="407.3" text-anchor="middle" font-size="6.3">NFU1</text><text class="im" x="381.5" y="502" text-anchor="middle" font-size="6.3">NFU1</text><text class="im" x="381.5" y="570.6" text-anchor="middle" font-size="6.3">NFU1 + LA</text>
<text x="9" y="17" class="pl">A</text><text x="92.5" y="17" class="pl">B</text><text x="171" y="17" class="pl">C</text><text x="258" y="17" class="pl">D</text><text x="332" y="17" class="pl">E</text><text x="419" y="17" class="pl">F</text><text x="8.5" y="184" class="pl">G</text><text x="97.5" y="184" class="pl">H</text><text x="177.5" y="184" class="pl">I</text><text x="290.5" y="184" class="pl">J</text><text x="377" y="184" class="pl">K</text><text x="450.5" y="184" class="pl">L</text><text x="6" y="330" class="pl">M</text><text x="66" y="330" class="pl">N</text><text x="143" y="329.5" class="pl">O</text><text x="220" y="329.5" class="pl">P</text><text x="281.5" y="330" class="pl">Q</text><text x="370.5" y="329.5" class="pl">R</text><text x="445.5" y="329.5" class="pl">S</text><text x="7.5" y="491" class="pl">T</text><text x="115.5" y="491" class="pl">U</text><text x="201.5" y="491" class="pl">V</text><text x="275.5" y="491" class="pl">W</text><text x="355.5" y="491" class="pl">X</text><text x="424.5" y="491" class="pl">Y</text><path d="M46.5,38.8V114.5H77" stroke="#111" stroke-width="1" fill="none"/><path d="M43.5,114.3H46.5" stroke="#111" stroke-width="0.9"/><text class="tk" x="40.9" y="116.53" text-anchor="end" font-size="6.2">0.0</text><path d="M43.5,99.3H46.5" stroke="#111" stroke-width="0.9"/><text class="tk" x="40.9" y="101.53" text-anchor="end" font-size="6.2">0.5</text><path d="M43.5,84.3H46.5" stroke="#111" stroke-width="0.9"/><text class="tk" x="40.9" y="86.53" text-anchor="end" font-size="6.2">1.0</text><path d="M43.5,69.3H46.5" stroke="#111" stroke-width="0.9"/><text class="tk" x="40.9" y="71.53" text-anchor="end" font-size="6.2">1.5</text><path d="M43.5,54.3H46.5" stroke="#111" stroke-width="0.9"/><text class="tk" x="40.9" y="56.53" text-anchor="end" font-size="6.2">2.0</text><path d="M43.5,39.3H46.5" stroke="#111" stroke-width="0.9"/><text class="tk" x="40.9" y="41.53" text-anchor="end" font-size="6.2">2.5</text><rect x="49" y="82.8" width="10" height="31.7" fill="#1d5b95"/><path d="M54.5,114.5v2.5" stroke="#111" stroke-width="0.9"/><path d="M54.5,83.8V77.7M52.3,77.7H56.7" stroke="#111" stroke-width="0.85" fill="none"/><circle cx="54" cy="54.3" r="1" fill="#000"/><circle cx="53" cy="77.7" r="1" fill="#000"/><circle cx="55" cy="77.7" r="1" fill="#000"/><circle cx="50" cy="87.3" r="1" fill="#000"/><circle cx="54" cy="87.3" r="1" fill="#000"/><circle cx="58" cy="87.3" r="1" fill="#000"/><circle cx="54" cy="106.2" r="1" fill="#000"/><rect x="64" y="100.8" width="10.3" height="13.7" fill="#d2123a"/><path d="M69.5,114.5v2.5" stroke="#111" stroke-width="0.9"/><path d="M69.5,101.8V96.3M67.3,96.3H71.7" stroke="#111" stroke-width="0.85" fill="none"/><circle cx="69.15" cy="92.1" r="1" fill="#000"/><circle cx="67.95" cy="96.3" r="1" fill="#000"/><circle cx="70.35" cy="96.3" r="1" fill="#000"/><circle cx="69.15" cy="104.1" r="1" fill="#000"/><circle cx="69.15" cy="111" r="1" fill="#000"/><path d="M54.5,53V51.5H69.5V90" stroke="#333" stroke-width="0.9" fill="none"/><text class="pv" x="61.5" y="49" text-anchor="middle" font-size="5.3" textLength="27" lengthAdjust="spacingAndGlyphs"><tspan font-style="italic">P</tspan> = .0433</text><text class="xl" transform="translate(56.5,122.9) rotate(-45)" text-anchor="end" font-size="5.6">WT</text><text class="xl" transform="translate(71.5,122.9) rotate(-45)" text-anchor="end" font-size="5.6">NFU1</text><text class="yl" transform="translate(15.2,73.7) rotate(-90)" text-anchor="middle" font-size="7.0" textLength="39" lengthAdjust="spacingAndGlyphs">ATP production</text><text class="yl" transform="translate(25.2,75.9) rotate(-90)" text-anchor="middle" font-size="7.0" textLength="69.8" lengthAdjust="spacingAndGlyphs">OCR (pmol/min)/µg protein</text><path d="M208.5,30.4V114.5H242.5" stroke="#111" stroke-width="1" fill="none"/><path d="M205.5,114.4H208.5" stroke="#111" stroke-width="0.9"/><text class="tk" x="202.4" y="116.56" text-anchor="end" font-size="6.0">0.0</text><path d="M205.5,97.7H208.5" stroke="#111" stroke-width="0.9"/><text class="tk" x="202.4" y="99.86" text-anchor="end" font-size="6.0">0.5</text><path d="M205.5,81H208.5" stroke="#111" stroke-width="0.9"/><text class="tk" x="202.4" y="83.16" text-anchor="end" font-size="6.0">1.0</text><path d="M205.5,64.3H208.5" stroke="#111" stroke-width="0.9"/><text class="tk" x="202.4" y="66.46" text-anchor="end" font-size="6.0">1.5</text><path d="M205.5,47.6H208.5" stroke="#111" stroke-width="0.9"/><text class="tk" x="202.4" y="49.76" text-anchor="end" font-size="6.0">2.0</text><path d="M205.5,30.9H208.5" stroke="#111" stroke-width="0.9"/><text class="tk" x="202.4" y="33.06" text-anchor="end" font-size="6.0">2.5</text><rect x="211.5" y="107.72" width="11.2" height="6.78" fill="#1d5b95"/><path d="M217.5,114.5v2.5" stroke="#111" stroke-width="0.9"/><path d="M217.5,108.72V105.38M215.3,105.38H219.7" stroke="#111" stroke-width="0.85" fill="none"/><circle cx="213.1" cy="103.38" r="1" fill="#000"/><circle cx="215.1" cy="103.38" r="1" fill="#000"/><circle cx="217.1" cy="103.38" r="1" fill="#000"/><circle cx="219.1" cy="103.38" r="1" fill="#000"/><circle cx="221.1" cy="103.38" r="1" fill="#000"/><circle cx="217.1" cy="106.05" r="1" fill="#000"/><circle cx="215.1" cy="109.39" r="1" fill="#000"/><circle cx="219.1" cy="110.39" r="1" fill="#000"/><rect x="228.5" y="61.96" width="11.5" height="52.54" fill="#d2123a"/><path d="M234.5,114.5v2.5" stroke="#111" stroke-width="0.9"/><path d="M234.5,62.96V57.62M232.3,57.62H236.7" stroke="#111" stroke-width="0.85" fill="none"/><circle cx="232.25" cy="47.6" r="1" fill="#000"/><circle cx="236.25" cy="47.6" r="1" fill="#000"/><circle cx="230.25" cy="57.62" r="1" fill="#000"/><circle cx="234.25" cy="57.62" r="1" fill="#000"/><circle cx="238.25" cy="57.62" r="1" fill="#000"/><circle cx="231.25" cy="64.3" r="1" fill="#000"/><circle cx="237.25" cy="64.3" r="1" fill="#000"/><circle cx="234.25" cy="70.98" r="1" fill="#000"/><circle cx="234.25" cy="81" r="1" fill="#000"/><path d="M217.5,101.5V43.5H234.5V46" stroke="#333" stroke-width="0.9" fill="none"/><text class="pv" x="226" y="38.7" text-anchor="middle" font-size="5.3" textLength="27" lengthAdjust="spacingAndGlyphs"><tspan font-style="italic">P</tspan> &lt; .0001</text><text class="xl" transform="translate(219.5,123) rotate(-45)" text-anchor="end" font-size="5.6">WT</text><text class="xl" transform="translate(236.8,123) rotate(-45)" text-anchor="end" font-size="5.6">NFU1</text><text class="yl" transform="translate(177.6,69.2) rotate(-90)" text-anchor="middle" font-size="7.0" textLength="70.5" lengthAdjust="spacingAndGlyphs">#of Immature reticulocytes</text><text class="yl" transform="translate(188.2,69.6) rotate(-90)" text-anchor="middle" font-size="7.0" textLength="26" lengthAdjust="spacingAndGlyphs">(millions)</text><path d="M280.5,25.6V114.5H314" stroke="#111" stroke-width="1" fill="none"/><path d="M277.5,114.3H280.5" stroke="#111" stroke-width="0.9"/><text class="tk" x="274.4" y="116.32" text-anchor="end" font-size="5.6">0</text><path d="M277.5,84.9H280.5" stroke="#111" stroke-width="0.9"/><text class="tk" x="274.4" y="86.92" text-anchor="end" font-size="5.6">2</text><path d="M277.5,55.5H280.5" stroke="#111" stroke-width="0.9"/><text class="tk" x="274.4" y="57.52" text-anchor="end" font-size="5.6">4</text><path d="M277.5,26.1H280.5" stroke="#111" stroke-width="0.9"/><text class="tk" x="274.4" y="28.12" text-anchor="end" font-size="5.6">6</text><rect x="283" y="77.55" width="11.7" height="36.95" fill="#1d5b95"/><path d="M288.5,114.5v2.5" stroke="#111" stroke-width="0.9"/><path d="M288.5,78.55V75.34M286.3,75.34H290.7" stroke="#111" stroke-width="0.85" fill="none"/><circle cx="288.85" cy="59.91" r="1" fill="#000"/><circle cx="288.85" cy="73.14" r="1" fill="#000"/><circle cx="286.85" cy="76.08" r="1" fill="#000"/><circle cx="290.85" cy="76.08" r="1" fill="#000"/><circle cx="288.85" cy="77.55" r="1" fill="#000"/><circle cx="285.85" cy="79.02" r="1" fill="#000"/><circle cx="291.85" cy="80.49" r="1" fill="#000"/><circle cx="287.85" cy="81.96" r="1" fill="#000"/><circle cx="290.35" cy="84.9" r="1" fill="#000"/><rect x="300.7" y="58.88" width="12.1" height="55.62" fill="#d2123a"/><path d="M306.5,114.5v2.5" stroke="#111" stroke-width="0.9"/><path d="M306.5,59.88V54.77M304.3,54.77H308.7" stroke="#111" stroke-width="0.85" fill="none"/><circle cx="306.75" cy="36.39" r="1" fill="#000"/><circle cx="304.75" cy="46.68" r="1" fill="#000"/><circle cx="308.75" cy="46.68" r="1" fill="#000"/><circle cx="306.75" cy="54.03" r="1" fill="#000"/><circle cx="309.75" cy="55.5" r="1" fill="#000"/><circle cx="304.75" cy="65.79" r="1" fill="#000"/><circle cx="308.75" cy="65.79" r="1" fill="#000"/><circle cx="304.75" cy="71.67" r="1" fill="#000"/><circle cx="308.75" cy="71.67" r="1" fill="#000"/><path d="M289.5,57V32.5H307.5V35" stroke="#333" stroke-width="0.9" fill="none"/><text class="pv" x="298" y="29.3" text-anchor="middle" font-size="5.3" textLength="27" lengthAdjust="spacingAndGlyphs"><tspan font-style="italic">P</tspan> = .0009</text><text class="xl" transform="translate(291.35,122.9) rotate(-45)" text-anchor="end" font-size="5.6">WT</text><text class="xl" transform="translate(309.25,122.9) rotate(-45)" text-anchor="end" font-size="5.6">NFU1</text><text class="yl" transform="translate(264,67.3) rotate(-90)" text-anchor="middle" font-size="7.0" textLength="39.7" lengthAdjust="spacingAndGlyphs">% Reticulocyte</text><path d="M367.5,30.1V114.5H402.5" stroke="#111" stroke-width="1" fill="none"/><path d="M364.5,114.6H367.5" stroke="#111" stroke-width="0.9"/><text class="tk" x="362" y="116.76" text-anchor="end" font-size="6.0">0.0</text><path d="M364.5,86.6H367.5" stroke="#111" stroke-width="0.9"/><text class="tk" x="362" y="88.76" text-anchor="end" font-size="6.0">0.5</text><path d="M364.5,58.6H367.5" stroke="#111" stroke-width="0.9"/><text class="tk" x="362" y="60.76" text-anchor="end" font-size="6.0">1.0</text><path d="M364.5,30.6H367.5" stroke="#111" stroke-width="0.9"/><text class="tk" x="362" y="32.76" text-anchor="end" font-size="6.0">1.5</text><rect x="372.1" y="89.4" width="10.8" height="25.1" fill="#1d5b95"/><path d="M377.5,114.5v2.5" stroke="#111" stroke-width="0.9"/><path d="M377.5,90.4V86.6M375.3,86.6H379.7" stroke="#111" stroke-width="0.85" fill="none"/><circle cx="377.5" cy="74.28" r="1" fill="#000"/><circle cx="374.5" cy="83.8" r="1" fill="#000"/><circle cx="377.5" cy="83.24" r="1" fill="#000"/><circle cx="380.5" cy="83.8" r="1" fill="#000"/><circle cx="375.5" cy="86.6" r="1" fill="#000"/><circle cx="379.5" cy="89.4" r="1" fill="#000"/><circle cx="377.5" cy="97.8" r="1" fill="#000"/><circle cx="375.5" cy="103.4" r="1" fill="#000"/><circle cx="379.5" cy="109" r="1" fill="#000"/><rect x="389" y="67" width="11.2" height="47.5" fill="#d2123a"/><path d="M394.5,114.5v2.5" stroke="#111" stroke-width="0.9"/><path d="M394.5,68V61.4M392.3,61.4H396.7" stroke="#111" stroke-width="0.85" fill="none"/><circle cx="394.6" cy="41.8" r="1" fill="#000"/><circle cx="394.6" cy="46.28" r="1" fill="#000"/><circle cx="394.6" cy="51.88" r="1" fill="#000"/><circle cx="394.6" cy="55.8" r="1" fill="#000"/><circle cx="394.6" cy="58.6" r="1" fill="#000"/><circle cx="392.6" cy="72.6" r="1" fill="#000"/><circle cx="396.6" cy="75.4" r="1" fill="#000"/><circle cx="394.6" cy="81" r="1" fill="#000"/><circle cx="393.6" cy="83.8" r="1" fill="#000"/><path d="M377.5,67V39.5H395.5V42" stroke="#333" stroke-width="0.9" fill="none"/><text class="pv" x="386.3" y="36" text-anchor="middle" font-size="5.3" textLength="28.5" lengthAdjust="spacingAndGlyphs"><tspan font-style="italic">P</tspan> = .0008</text><text class="xl" transform="translate(380,123.2) rotate(-45)" text-anchor="end" font-size="5.6">WT</text><text class="xl" transform="translate(397.1,123.2) rotate(-45)" text-anchor="end" font-size="5.6">NFU1</text><text class="yl" transform="translate(337.6,71.5) rotate(-90)" text-anchor="middle" font-size="7.0" textLength="33" lengthAdjust="spacingAndGlyphs">Erythropoietin</text><text class="yl" transform="translate(348,69.3) rotate(-90)" text-anchor="middle" font-size="7.0" textLength="46.5" lengthAdjust="spacingAndGlyphs">(fold change WT)</text><path d="M46.5,194.7V282.5H81" stroke="#111" stroke-width="1" fill="none"/><path d="M43.5,282H46.5" stroke="#111" stroke-width="0.9"/><text class="tk" x="40.7" y="284.16" text-anchor="end" font-size="6.0">0.0</text><path d="M43.5,260.3H46.5" stroke="#111" stroke-width="0.9"/><text class="tk" x="40.7" y="262.46" text-anchor="end" font-size="6.0">0.2</text><path d="M43.5,238.6H46.5" stroke="#111" stroke-width="0.9"/><text class="tk" x="40.7" y="240.76" text-anchor="end" font-size="6.0">0.4</text><path d="M43.5,216.9H46.5" stroke="#111" stroke-width="0.9"/><text class="tk" x="40.7" y="219.06" text-anchor="end" font-size="6.0">0.6</text><path d="M43.5,195.2H46.5" stroke="#111" stroke-width="0.9"/><text class="tk" x="40.7" y="197.36" text-anchor="end" font-size="6.0">0.8</text><rect x="49.25" y="250.53" width="12" height="31.97" fill="#1d5b95"/><path d="M55.5,282.5v2.5" stroke="#111" stroke-width="0.9"/><path d="M55.5,251.53V248.37M53.3,248.37H57.7" stroke="#111" stroke-width="0.85" fill="none"/><circle cx="55.25" cy="245.11" r="1" fill="#000"/><circle cx="53.25" cy="247.28" r="1" fill="#000"/><circle cx="57.25" cy="249.45" r="1" fill="#000"/><circle cx="55.25" cy="251.62" r="1" fill="#000"/><circle cx="55.25" cy="254.88" r="1" fill="#000"/><rect x="66.25" y="232.63" width="12.5" height="49.87" fill="#d2123a"/><path d="M72.5,282.5v2.5" stroke="#111" stroke-width="0.9"/><path d="M72.5,233.63V225.58M70.3,225.58H74.7" stroke="#111" stroke-width="0.85" fill="none"/><circle cx="72.5" cy="213.64" r="1" fill="#000"/><circle cx="72.5" cy="227.75" r="1" fill="#000"/><circle cx="70.5" cy="233.18" r="1" fill="#000"/><circle cx="74.5" cy="234.26" r="1" fill="#000"/><circle cx="72.5" cy="244.03" r="1" fill="#000"/><path d="M55.5,242V208.5H72.5V212" stroke="#333" stroke-width="0.9" fill="none"/><text class="pv" x="64" y="205" text-anchor="middle" font-size="5.3" textLength="27" lengthAdjust="spacingAndGlyphs"><tspan font-style="italic">P</tspan> = .0402</text><text class="xl" transform="translate(57.75,290.6) rotate(-45)" text-anchor="end" font-size="5.6">WT</text><text class="xl" transform="translate(75,290.6) rotate(-45)" text-anchor="end" font-size="5.6">NFU1</text><text class="yl" transform="translate(26.5,235.9) rotate(-90)" text-anchor="middle" font-size="7.0" textLength="41.7" lengthAdjust="spacingAndGlyphs">CA9/hematoxylin</text><path d="M123.5,191.5V282.5H158.7" stroke="#111" stroke-width="1" fill="none"/><path d="M120.5,282H123.5" stroke="#111" stroke-width="0.9"/><text class="tk" x="117.6" y="284.16" text-anchor="end" font-size="6.0">0</text><path d="M120.5,252H123.5" stroke="#111" stroke-width="0.9"/><text class="tk" x="117.6" y="254.16" text-anchor="end" font-size="6.0">5</text><path d="M120.5,222H123.5" stroke="#111" stroke-width="0.9"/><text class="tk" x="117.6" y="224.16" text-anchor="end" font-size="6.0">10</text><path d="M120.5,192H123.5" stroke="#111" stroke-width="0.9"/><text class="tk" x="117.6" y="194.16" text-anchor="end" font-size="6.0">15</text><rect x="126.7" y="279" width="11.9" height="3.5" fill="#1d5b95"/><path d="M132.5,282.5v2.5" stroke="#111" stroke-width="0.9"/><path d="M132.5,280V278.4M130.3,278.4H134.7" stroke="#111" stroke-width="0.85" fill="none"/><circle cx="129.65" cy="278.4" r="1" fill="#000"/><circle cx="131.65" cy="278.4" r="1" fill="#000"/><circle cx="133.65" cy="278.4" r="1" fill="#000"/><circle cx="135.65" cy="278.4" r="1" fill="#000"/><circle cx="130.65" cy="279.6" r="1" fill="#000"/><circle cx="134.65" cy="279.6" r="1" fill="#000"/><rect x="144" y="247.8" width="12.4" height="34.7" fill="#d2123a"/><path d="M150.5,282.5v2.5" stroke="#111" stroke-width="0.9"/><path d="M150.5,248.8V241.2M148.3,241.2H152.7" stroke="#111" stroke-width="0.85" fill="none"/><circle cx="150.2" cy="219.6" r="1" fill="#000"/><circle cx="150.2" cy="222" r="1" fill="#000"/><circle cx="150.2" cy="225.6" r="1" fill="#000"/><circle cx="149.2" cy="235.8" r="1" fill="#000"/><circle cx="152.2" cy="241.2" r="1" fill="#000"/><circle cx="148.2" cy="246" r="1" fill="#000"/><circle cx="151.2" cy="249.6" r="1" fill="#000"/><circle cx="148.2" cy="253.2" r="1" fill="#000"/><circle cx="150.2" cy="261" r="1" fill="#000"/><circle cx="150.2" cy="270" r="1" fill="#000"/><path d="M132.5,277V215.5H149.5V218" stroke="#333" stroke-width="0.9" fill="none"/><text class="pv" x="141.2" y="212" text-anchor="middle" font-size="5.3" textLength="27" lengthAdjust="spacingAndGlyphs"><tspan font-style="italic">P</tspan> &lt; .0001</text><text class="xl" transform="translate(135.15,290.6) rotate(-45)" text-anchor="end" font-size="5.6">WT</text><text class="xl" transform="translate(152.7,290.6) rotate(-45)" text-anchor="end" font-size="5.6">NFU1</text><text class="yl" transform="translate(106.3,233.7) rotate(-90)" text-anchor="middle" font-size="7.0" textLength="26" lengthAdjust="spacingAndGlyphs">µM heme</text><path d="M326.5,195V281.5H360.5" stroke="#111" stroke-width="1" fill="none"/><path d="M323.5,281.9H326.5" stroke="#111" stroke-width="0.9"/><text class="tk" x="320.6" y="284.06" text-anchor="end" font-size="6.0">0.0</text><path d="M323.5,260.3H326.5" stroke="#111" stroke-width="0.9"/><text class="tk" x="320.6" y="262.46" text-anchor="end" font-size="6.0">0.5</text><path d="M323.5,238.7H326.5" stroke="#111" stroke-width="0.9"/><text class="tk" x="320.6" y="240.86" text-anchor="end" font-size="6.0">1.0</text><path d="M323.5,217.1H326.5" stroke="#111" stroke-width="0.9"/><text class="tk" x="320.6" y="219.26" text-anchor="end" font-size="6.0">1.5</text><path d="M323.5,195.5H326.5" stroke="#111" stroke-width="0.9"/><text class="tk" x="320.6" y="197.66" text-anchor="end" font-size="6.0">2.0</text><rect x="329.7" y="241.72" width="11.3" height="39.78" fill="#1d5b95"/><path d="M335.5,281.5v2.5" stroke="#111" stroke-width="0.9"/><path d="M335.5,242.72V239.56M333.3,239.56H337.7" stroke="#111" stroke-width="0.85" fill="none"/><circle cx="335.35" cy="235.24" r="1" fill="#000"/><circle cx="333.35" cy="237.84" r="1" fill="#000"/><circle cx="337.35" cy="239.56" r="1" fill="#000"/><circle cx="335.35" cy="240.86" r="1" fill="#000"/><circle cx="333.35" cy="243.02" r="1" fill="#000"/><circle cx="337.35" cy="245.18" r="1" fill="#000"/><circle cx="335.35" cy="247.34" r="1" fill="#000"/><rect x="347" y="216.24" width="11.6" height="65.26" fill="#d2123a"/><path d="M352.5,281.5v2.5" stroke="#111" stroke-width="0.9"/><path d="M352.5,217.24V212.78M350.3,212.78H354.7" stroke="#111" stroke-width="0.85" fill="none"/><circle cx="352.8" cy="204.14" r="1" fill="#000"/><circle cx="350.8" cy="210.62" r="1" fill="#000"/><circle cx="354.8" cy="211.92" r="1" fill="#000"/><circle cx="352.8" cy="214.94" r="1" fill="#000"/><circle cx="349.8" cy="217.1" r="1" fill="#000"/><circle cx="355.8" cy="219.26" r="1" fill="#000"/><circle cx="352.8" cy="221.42" r="1" fill="#000"/><path d="M335.5,232V200.5H352.5V203" stroke="#333" stroke-width="0.9" fill="none"/><text class="pv" x="344" y="197.9" text-anchor="middle" font-size="5.3" textLength="27" lengthAdjust="spacingAndGlyphs"><tspan font-style="italic">P</tspan> &lt; .0001</text><text class="xl" transform="translate(337.85,290.5) rotate(-45)" text-anchor="end" font-size="5.6">WT</text><text class="xl" transform="translate(355.3,290.5) rotate(-45)" text-anchor="end" font-size="5.6">NFU1</text><text class="yl" transform="translate(296,235) rotate(-90)" text-anchor="middle" font-size="7.0" textLength="69.4" lengthAdjust="spacingAndGlyphs">FITC-dextran extravasation,</text><text class="yl" transform="translate(306,235.8) rotate(-90)" text-anchor="middle" font-size="7.0" textLength="30" lengthAdjust="spacingAndGlyphs">fold control</text><path d="M402.5,204.2V281.5H432.9" stroke="#111" stroke-width="1" fill="none"/><path d="M399.5,281.7H402.5" stroke="#111" stroke-width="0.9"/><text class="tk" x="396.7" y="283.86" text-anchor="end" font-size="6.0">0</text><path d="M399.5,262.45H402.5" stroke="#111" stroke-width="0.9"/><text class="tk" x="396.7" y="264.61" text-anchor="end" font-size="6.0">10</text><path d="M399.5,243.2H402.5" stroke="#111" stroke-width="0.9"/><text class="tk" x="396.7" y="245.36" text-anchor="end" font-size="6.0">20</text><path d="M399.5,223.95H402.5" stroke="#111" stroke-width="0.9"/><text class="tk" x="396.7" y="226.11" text-anchor="end" font-size="6.0">30</text><path d="M399.5,204.7H402.5" stroke="#111" stroke-width="0.9"/><text class="tk" x="396.7" y="206.86" text-anchor="end" font-size="6.0">40</text><rect x="406" y="235.5" width="10.1" height="46" fill="#1d5b95"/><path d="M411.5,281.5v2.5" stroke="#111" stroke-width="0.9"/><path d="M411.5,236.5V233.57M409.3,233.57H413.7" stroke="#111" stroke-width="0.85" fill="none"/><circle cx="408.05" cy="229.72" r="1" fill="#000"/><circle cx="411.05" cy="229.15" r="1" fill="#000"/><circle cx="414.05" cy="230.11" r="1" fill="#000"/><circle cx="409.05" cy="235.5" r="1" fill="#000"/><circle cx="413.05" cy="237.42" r="1" fill="#000"/><circle cx="411.05" cy="239.35" r="1" fill="#000"/><circle cx="409.05" cy="241.27" r="1" fill="#000"/><circle cx="413.05" cy="243.2" r="1" fill="#000"/><rect x="421.3" y="220.1" width="10.1" height="61.4" fill="#d2123a"/><path d="M426.5,281.5v2.5" stroke="#111" stroke-width="0.9"/><path d="M426.5,221.1V217.21M424.3,217.21H428.7" stroke="#111" stroke-width="0.85" fill="none"/><circle cx="428.35" cy="208.55" r="1" fill="#000"/><circle cx="424.35" cy="212.4" r="1" fill="#000"/><circle cx="428.35" cy="216.25" r="1" fill="#000"/><circle cx="426.35" cy="218.17" r="1" fill="#000"/><circle cx="423.35" cy="220.1" r="1" fill="#000"/><circle cx="429.35" cy="222.02" r="1" fill="#000"/><circle cx="426.35" cy="223.95" r="1" fill="#000"/><circle cx="424.35" cy="225.88" r="1" fill="#000"/><path d="M411.5,228V206.5H426.5V209" stroke="#333" stroke-width="0.9" fill="none"/><text class="pv" x="418.5" y="205.3" text-anchor="middle" font-size="5.3" textLength="26" lengthAdjust="spacingAndGlyphs"><tspan font-style="italic">P</tspan> &lt; .0001</text><text class="xl" transform="translate(413.55,290.3) rotate(-45)" text-anchor="end" font-size="5.6">WT</text><text class="xl" transform="translate(428.85,290.3) rotate(-45)" text-anchor="end" font-size="5.6">NFU1</text><text class="yl" transform="translate(383.2,240) rotate(-90)" text-anchor="middle" font-size="7.0" textLength="34.5" lengthAdjust="spacingAndGlyphs">RVSP, mmHg</text><path d="M476.5,204.2V281.5H507.9" stroke="#111" stroke-width="1" fill="none"/><path d="M473.5,281.7H476.5" stroke="#111" stroke-width="0.9"/><text class="tk" x="471.1" y="283.86" text-anchor="end" font-size="6.0">0.0</text><path d="M473.5,262.45H476.5" stroke="#111" stroke-width="0.9"/><text class="tk" x="471.1" y="264.61" text-anchor="end" font-size="6.0">0.1</text><path d="M473.5,243.2H476.5" stroke="#111" stroke-width="0.9"/><text class="tk" x="471.1" y="245.36" text-anchor="end" font-size="6.0">0.2</text><path d="M473.5,223.95H476.5" stroke="#111" stroke-width="0.9"/><text class="tk" x="471.1" y="226.11" text-anchor="end" font-size="6.0">0.3</text><path d="M473.5,204.7H476.5" stroke="#111" stroke-width="0.9"/><text class="tk" x="471.1" y="206.86" text-anchor="end" font-size="6.0">0.4</text><rect x="480.2" y="230.69" width="9.5" height="50.81" fill="#1d5b95"/><path d="M484.5,281.5v2.5" stroke="#111" stroke-width="0.9"/><path d="M484.5,231.69V229.72M482.3,229.72H486.7" stroke="#111" stroke-width="0.85" fill="none"/><circle cx="482.95" cy="227.8" r="1" fill="#000"/><circle cx="486.95" cy="228.18" r="1" fill="#000"/><circle cx="484.95" cy="229.34" r="1" fill="#000"/><circle cx="481.95" cy="230.69" r="1" fill="#000"/><circle cx="487.95" cy="231.65" r="1" fill="#000"/><circle cx="484.95" cy="232.61" r="1" fill="#000"/><rect x="495.5" y="224.91" width="10.1" height="56.59" fill="#d2123a"/><path d="M500.5,281.5v2.5" stroke="#111" stroke-width="0.9"/><path d="M500.5,225.91V223.95M498.3,223.95H502.7" stroke="#111" stroke-width="0.85" fill="none"/><circle cx="500.55" cy="221.06" r="1" fill="#000"/><circle cx="497.55" cy="222.99" r="1" fill="#000"/><circle cx="503.55" cy="223.95" r="1" fill="#000"/><circle cx="500.55" cy="224.53" r="1" fill="#000"/><circle cx="498.55" cy="225.88" r="1" fill="#000"/><circle cx="502.55" cy="226.84" r="1" fill="#000"/><circle cx="500.55" cy="227.8" r="1" fill="#000"/><path d="M484.5,226V216.5H500.5V219" stroke="#333" stroke-width="0.9" fill="none"/><text class="pv" x="492.3" y="215.4" text-anchor="middle" font-size="5.3" textLength="26" lengthAdjust="spacingAndGlyphs"><tspan font-style="italic">P</tspan> = .0002</text><text class="xl" transform="translate(487.45,290.3) rotate(-45)" text-anchor="end" font-size="5.6">WT</text><text class="xl" transform="translate(503.05,290.3) rotate(-45)" text-anchor="end" font-size="5.6">NFU1</text><text class="yl" transform="translate(456.6,240.5) rotate(-90)" text-anchor="middle" font-size="7.0" textLength="32" lengthAdjust="spacingAndGlyphs">Fulton index</text><path d="M92.5,339.1V423.5H124.6" stroke="#111" stroke-width="1" fill="none"/><path d="M89.5,423.6H92.5" stroke="#111" stroke-width="0.9"/><text class="tk" x="86.6" y="425.83" text-anchor="end" font-size="6.2">0</text><path d="M89.5,402.6H92.5" stroke="#111" stroke-width="0.9"/><text class="tk" x="86.6" y="404.83" text-anchor="end" font-size="6.2">20</text><path d="M89.5,381.6H92.5" stroke="#111" stroke-width="0.9"/><text class="tk" x="86.6" y="383.83" text-anchor="end" font-size="6.2">40</text><path d="M89.5,360.6H92.5" stroke="#111" stroke-width="0.9"/><text class="tk" x="86.6" y="362.83" text-anchor="end" font-size="6.2">60</text><path d="M89.5,339.6H92.5" stroke="#111" stroke-width="0.9"/><text class="tk" x="86.6" y="341.83" text-anchor="end" font-size="6.2">80</text><rect x="95.9" y="376.35" width="10.9" height="47.15" fill="#1d5b95"/><path d="M101.5,423.5v2.5" stroke="#111" stroke-width="0.9"/><path d="M101.5,377.35V374.25M99.3,374.25H103.7" stroke="#111" stroke-width="0.85" fill="none"/><circle cx="101.35" cy="374.25" r="1" fill="#000"/><circle cx="99.35" cy="376.35" r="1" fill="#000"/><circle cx="103.35" cy="377.4" r="1" fill="#000"/><circle cx="101.35" cy="378.45" r="1" fill="#000"/><rect x="112.3" y="355.35" width="11.3" height="68.15" fill="#d2123a"/><path d="M117.5,423.5v2.5" stroke="#111" stroke-width="0.9"/><path d="M117.5,356.35V353.25M115.3,353.25H119.7" stroke="#111" stroke-width="0.85" fill="none"/><circle cx="115.95" cy="352.2" r="1" fill="#000"/><circle cx="119.95" cy="352.2" r="1" fill="#000"/><circle cx="117.95" cy="354.3" r="1" fill="#000"/><circle cx="117.95" cy="356.4" r="1" fill="#000"/><path d="M100.5,372V347.5H118.5V350" stroke="#333" stroke-width="0.9" fill="none"/><text class="pv" x="108.7" y="344.2" text-anchor="middle" font-size="5.3" textLength="25.5" lengthAdjust="spacingAndGlyphs"><tspan font-style="italic">P</tspan> &lt; .0001</text><text class="xl" transform="translate(103.85,432.2) rotate(-45)" text-anchor="end" font-size="5.6">WT</text><text class="xl" transform="translate(120.45,432.2) rotate(-45)" text-anchor="end" font-size="5.6">NFU1</text><text class="yl" transform="translate(73,377.8) rotate(-90)" text-anchor="middle" font-size="7.0" textLength="48" lengthAdjust="spacingAndGlyphs">% Occlusion score</text><path d="M181.5,344.6V423.5H212" stroke="#111" stroke-width="1" fill="none"/><path d="M178.5,423.1H181.5" stroke="#111" stroke-width="0.9"/><text class="tk" x="175.6" y="425.26" text-anchor="end" font-size="6.0">0.0</text><path d="M178.5,407.5H181.5" stroke="#111" stroke-width="0.9"/><text class="tk" x="175.6" y="409.66" text-anchor="end" font-size="6.0">0.2</text><path d="M178.5,391.9H181.5" stroke="#111" stroke-width="0.9"/><text class="tk" x="175.6" y="394.06" text-anchor="end" font-size="6.0">0.4</text><path d="M178.5,376.3H181.5" stroke="#111" stroke-width="0.9"/><text class="tk" x="175.6" y="378.46" text-anchor="end" font-size="6.0">0.6</text><path d="M178.5,360.7H181.5" stroke="#111" stroke-width="0.9"/><text class="tk" x="175.6" y="362.86" text-anchor="end" font-size="6.0">0.8</text><path d="M178.5,345.1H181.5" stroke="#111" stroke-width="0.9"/><text class="tk" x="175.6" y="347.26" text-anchor="end" font-size="6.0">1.0</text><rect x="183.9" y="386.44" width="11.3" height="37.06" fill="#d2123a"/><path d="M189.5,423.5v2.5" stroke="#111" stroke-width="0.9"/><path d="M189.5,387.44V376.3M187.3,376.3H191.7" stroke="#111" stroke-width="0.85" fill="none"/><circle cx="189.55" cy="364.6" r="1" fill="#000"/><circle cx="189.55" cy="376.3" r="1" fill="#000"/><circle cx="187.55" cy="384.1" r="1" fill="#000"/><circle cx="191.55" cy="391.9" r="1" fill="#000"/><circle cx="189.55" cy="399.7" r="1" fill="#000"/><circle cx="189.55" cy="415.3" r="1" fill="#000"/><rect x="200" y="360.7" width="10.8" height="62.8" fill="#3cb54a"/><path d="M205.5,423.5v2.5" stroke="#111" stroke-width="0.9"/><path d="M205.5,361.7V356.8M203.3,356.8H207.7" stroke="#111" stroke-width="0.85" fill="none"/><circle cx="203.4" cy="352.9" r="1" fill="#000"/><circle cx="207.4" cy="352.9" r="1" fill="#000"/><circle cx="205.4" cy="356.02" r="1" fill="#000"/><circle cx="202.4" cy="359.14" r="1" fill="#000"/><circle cx="208.4" cy="362.26" r="1" fill="#000"/><circle cx="203.4" cy="366.16" r="1" fill="#000"/><circle cx="207.4" cy="366.94" r="1" fill="#000"/><path d="M189.5,362V351.5H205.5V353" stroke="#333" stroke-width="0.9" fill="none"/><text class="pv" x="197.5" y="348.2" text-anchor="middle" font-size="5.3" textLength="26" lengthAdjust="spacingAndGlyphs"><tspan font-style="italic">P</tspan> = .0303</text><text class="xl" transform="translate(192.05,431.7) rotate(-45)" text-anchor="end" font-size="5.6">NFU1</text><text class="xl" transform="translate(207.9,431.7) rotate(-45)" text-anchor="end" font-size="5.6">NFU1-LA</text><text class="yl" transform="translate(151,380.5) rotate(-90)" text-anchor="middle" font-size="7.0" textLength="37" lengthAdjust="spacingAndGlyphs">ATP production</text><text class="yl" transform="translate(160.5,382) rotate(-90)" text-anchor="middle" font-size="7.0" textLength="75" lengthAdjust="spacingAndGlyphs">OCR (pmol/min)/µg protein</text><path d="M241.5,339.6V423.5H274" stroke="#111" stroke-width="1" fill="none"/><path d="M238.5,423.5H241.5" stroke="#111" stroke-width="0.9"/><text class="tk" x="235.7" y="425.66" text-anchor="end" font-size="6.0">0</text><path d="M238.5,395.7H241.5" stroke="#111" stroke-width="0.9"/><text class="tk" x="235.7" y="397.86" text-anchor="end" font-size="6.0">2</text><path d="M238.5,367.9H241.5" stroke="#111" stroke-width="0.9"/><text class="tk" x="235.7" y="370.06" text-anchor="end" font-size="6.0">4</text><path d="M238.5,340.1H241.5" stroke="#111" stroke-width="0.9"/><text class="tk" x="235.7" y="342.26" text-anchor="end" font-size="6.0">6</text><rect x="244.4" y="371.1" width="11.2" height="52.4" fill="#d2123a"/><path d="M250.5,423.5v2.5" stroke="#111" stroke-width="0.9"/><path d="M250.5,372.1V367.2M248.3,367.2H252.7" stroke="#111" stroke-width="0.85" fill="none"/><circle cx="250" cy="349.83" r="1" fill="#000"/><circle cx="248" cy="359.56" r="1" fill="#000"/><circle cx="252" cy="359.56" r="1" fill="#000"/><circle cx="250" cy="366.51" r="1" fill="#000"/><circle cx="253" cy="367.9" r="1" fill="#000"/><circle cx="248" cy="377.63" r="1" fill="#000"/><circle cx="252" cy="377.63" r="1" fill="#000"/><circle cx="248" cy="383.19" r="1" fill="#000"/><circle cx="252" cy="383.19" r="1" fill="#000"/><rect x="260.8" y="388.06" width="11.6" height="35.44" fill="#3cb54a"/><path d="M266.5,423.5v2.5" stroke="#111" stroke-width="0.9"/><path d="M266.5,389.06V385.97M264.3,385.97H268.7" stroke="#111" stroke-width="0.85" fill="none"/><circle cx="263.6" cy="381.8" r="1" fill="#000"/><circle cx="266.6" cy="381.8" r="1" fill="#000"/><circle cx="269.6" cy="382.5" r="1" fill="#000"/><circle cx="264.6" cy="384.58" r="1" fill="#000"/><circle cx="268.6" cy="385.97" r="1" fill="#000"/><circle cx="263.6" cy="387.36" r="1" fill="#000"/><circle cx="266.6" cy="388.75" r="1" fill="#000"/><circle cx="269.6" cy="390.14" r="1" fill="#000"/><circle cx="264.6" cy="391.53" r="1" fill="#000"/><circle cx="268.6" cy="392.92" r="1" fill="#000"/><path d="M250.5,350V346.5H267.5V380" stroke="#333" stroke-width="0.9" fill="none"/><text class="pv" x="258.7" y="343" text-anchor="middle" font-size="5.3" textLength="26.5" lengthAdjust="spacingAndGlyphs"><tspan font-style="italic">P</tspan> = .0001</text><text class="xl" transform="translate(252.5,432.1) rotate(-45)" text-anchor="end" font-size="5.6">NFU1</text><text class="xl" transform="translate(269.1,432.1) rotate(-45)" text-anchor="end" font-size="5.6">NFU1-LA</text><text class="yl" transform="translate(226,383.5) rotate(-90)" text-anchor="middle" font-size="7.0" textLength="43" lengthAdjust="spacingAndGlyphs">% Reticulocytes</text><path d="M408.5,345.7V423.5H439.4" stroke="#111" stroke-width="1" fill="none"/><path d="M405.5,423.2H408.5" stroke="#111" stroke-width="0.9"/><text class="tk" x="403" y="425.36" text-anchor="end" font-size="6.0">0.0</text><path d="M405.5,407.8H408.5" stroke="#111" stroke-width="0.9"/><text class="tk" x="403" y="409.96" text-anchor="end" font-size="6.0">0.5</text><path d="M405.5,392.4H408.5" stroke="#111" stroke-width="0.9"/><text class="tk" x="403" y="394.56" text-anchor="end" font-size="6.0">1.0</text><path d="M405.5,377H408.5" stroke="#111" stroke-width="0.9"/><text class="tk" x="403" y="379.16" text-anchor="end" font-size="6.0">1.5</text><path d="M405.5,361.6H408.5" stroke="#111" stroke-width="0.9"/><text class="tk" x="403" y="363.76" text-anchor="end" font-size="6.0">2.0</text><path d="M405.5,346.2H408.5" stroke="#111" stroke-width="0.9"/><text class="tk" x="403" y="348.36" text-anchor="end" font-size="6.0">2.5</text><rect x="410.8" y="374.84" width="10.7" height="48.66" fill="#d2123a"/><path d="M416.5,423.5v2.5" stroke="#111" stroke-width="0.9"/><path d="M416.5,375.84V370.84M414.3,370.84H418.7" stroke="#111" stroke-width="0.85" fill="none"/><circle cx="414.15" cy="361.6" r="1" fill="#000"/><circle cx="418.15" cy="361.6" r="1" fill="#000"/><circle cx="412.15" cy="370.84" r="1" fill="#000"/><circle cx="416.15" cy="370.84" r="1" fill="#000"/><circle cx="420.15" cy="370.84" r="1" fill="#000"/><circle cx="413.15" cy="377" r="1" fill="#000"/><circle cx="419.15" cy="377" r="1" fill="#000"/><circle cx="416.15" cy="383.16" r="1" fill="#000"/><circle cx="416.15" cy="392.4" r="1" fill="#000"/><rect x="427" y="411.5" width="10.5" height="12" fill="#3cb54a"/><path d="M432.5,423.5v2.5" stroke="#111" stroke-width="0.9"/><path d="M432.5,412.5V407.8M430.3,407.8H434.7" stroke="#111" stroke-width="0.85" fill="none"/><circle cx="430.25" cy="392.4" r="1" fill="#000"/><circle cx="434.25" cy="392.4" r="1" fill="#000"/><circle cx="432.25" cy="398.56" r="1" fill="#000"/><circle cx="430.25" cy="407.8" r="1" fill="#000"/><circle cx="434.25" cy="412.42" r="1" fill="#000"/><circle cx="429.25" cy="412.42" r="1" fill="#000"/><circle cx="432.25" cy="413.04" r="1" fill="#000"/><circle cx="435.25" cy="413.96" r="1" fill="#000"/><path d="M416.5,360V357.5H432.5V390" stroke="#333" stroke-width="0.9" fill="none"/><text class="pv" x="423.5" y="354.6" text-anchor="middle" font-size="5.3" textLength="25.5" lengthAdjust="spacingAndGlyphs"><tspan font-style="italic">P</tspan> &lt; .0001</text><text class="xl" transform="translate(418.65,431.8) rotate(-45)" text-anchor="end" font-size="5.6">NFU1</text><text class="xl" transform="translate(434.75,431.8) rotate(-45)" text-anchor="end" font-size="5.6">NFU1-LA</text><text class="yl" transform="translate(377.6,381.1) rotate(-90)" text-anchor="middle" font-size="7.0" textLength="72.8" lengthAdjust="spacingAndGlyphs"># of Immature reticulocytes</text><text class="yl" transform="translate(387.3,381.1) rotate(-90)" text-anchor="middle" font-size="7.0" textLength="23.2" lengthAdjust="spacingAndGlyphs">(millions)</text><path d="M469.5,338.05V423.5H512.2" stroke="#111" stroke-width="1" fill="none"/><path d="M466.5,423.75H469.5" stroke="#111" stroke-width="0.9"/><text class="tk" x="464.2" y="425.91" text-anchor="end" font-size="6.0">0</text><path d="M466.5,395.35H469.5" stroke="#111" stroke-width="0.9"/><text class="tk" x="464.2" y="397.51" text-anchor="end" font-size="6.0">5</text><path d="M466.5,366.95H469.5" stroke="#111" stroke-width="0.9"/><text class="tk" x="464.2" y="369.11" text-anchor="end" font-size="6.0">10</text><path d="M466.5,338.55H469.5" stroke="#111" stroke-width="0.9"/><text class="tk" x="464.2" y="340.71" text-anchor="end" font-size="6.0">15</text><rect x="474.4" y="420.91" width="9.4" height="2.59" fill="#1d5b95"/><path d="M479.5,423.5v2.5" stroke="#111" stroke-width="0.9"/><path d="M479.5,421.91V420.34M477.3,420.34H481.7" stroke="#111" stroke-width="0.85" fill="none"/><circle cx="477.1" cy="420.34" r="1" fill="#000"/><circle cx="479.1" cy="420.34" r="1" fill="#000"/><circle cx="481.1" cy="420.34" r="1" fill="#000"/><rect x="488.2" y="390.81" width="8.9" height="32.69" fill="#d2123a"/><path d="M492.5,423.5v2.5" stroke="#111" stroke-width="0.9"/><path d="M492.5,391.81V385.13M490.3,385.13H494.7" stroke="#111" stroke-width="0.85" fill="none"/><circle cx="492.65" cy="364.68" r="1" fill="#000"/><circle cx="492.65" cy="366.95" r="1" fill="#000"/><circle cx="492.65" cy="370.36" r="1" fill="#000"/><circle cx="491.65" cy="380.01" r="1" fill="#000"/><circle cx="494.65" cy="385.13" r="1" fill="#000"/><circle cx="490.65" cy="389.67" r="1" fill="#000"/><circle cx="493.65" cy="393.08" r="1" fill="#000"/><circle cx="490.65" cy="396.49" r="1" fill="#000"/><circle cx="492.65" cy="403.87" r="1" fill="#000"/><circle cx="492.65" cy="412.39" r="1" fill="#000"/><rect x="501.8" y="403.3" width="9.5" height="20.2" fill="#3cb54a"/><path d="M506.5,423.5v2.5" stroke="#111" stroke-width="0.9"/><path d="M506.5,404.3V401.03M504.3,401.03H508.7" stroke="#111" stroke-width="0.85" fill="none"/><circle cx="506.55" cy="386.83" r="1" fill="#000"/><circle cx="506.55" cy="395.35" r="1" fill="#000"/><circle cx="504.55" cy="398.19" r="1" fill="#000"/><circle cx="508.55" cy="401.03" r="1" fill="#000"/><circle cx="506.55" cy="403.87" r="1" fill="#000"/><circle cx="504.55" cy="406.71" r="1" fill="#000"/><circle cx="508.55" cy="409.55" r="1" fill="#000"/><circle cx="504.55" cy="415.23" r="1" fill="#000"/><circle cx="508.55" cy="418.07" r="1" fill="#000"/><path d="M479.5,418V348.5H492.5V350.8" stroke="#333" stroke-width="0.9" fill="none"/><text class="pv" x="484.3" y="346.1" text-anchor="middle" font-size="5.3" textLength="21.8" lengthAdjust="spacingAndGlyphs"><tspan font-style="italic">P</tspan> &lt; .0001</text><path d="M492.5,363V359.5H505.5V383" stroke="#333" stroke-width="0.9" fill="none"/><text class="pv" x="499.4" y="356.5" text-anchor="middle" font-size="5.3" textLength="27.5" lengthAdjust="spacingAndGlyphs"><tspan font-style="italic">P</tspan> = .0277</text><text class="xl" transform="translate(481.6,432.35) rotate(-45)" text-anchor="end" font-size="5.6">WT</text><text class="xl" transform="translate(495.15,432.35) rotate(-45)" text-anchor="end" font-size="5.6">NFU1</text><text class="xl" transform="translate(509.05,432.35) rotate(-45)" text-anchor="end" font-size="5.6">NFU1-LA</text><text class="yl" transform="translate(454.6,376) rotate(-90)" text-anchor="middle" font-size="7.0" textLength="26" lengthAdjust="spacingAndGlyphs">µM heme</text><path d="M153.5,508V588.5H185.3" stroke="#111" stroke-width="1" fill="none"/><path d="M150.5,588.3H153.5" stroke="#111" stroke-width="0.9"/><text class="tk" x="147.4" y="590.46" text-anchor="end" font-size="6.0">0.0</text><path d="M150.5,561.7H153.5" stroke="#111" stroke-width="0.9"/><text class="tk" x="147.4" y="563.86" text-anchor="end" font-size="6.0">0.5</text><path d="M150.5,535.1H153.5" stroke="#111" stroke-width="0.9"/><text class="tk" x="147.4" y="537.26" text-anchor="end" font-size="6.0">1.0</text><path d="M150.5,508.5H153.5" stroke="#111" stroke-width="0.9"/><text class="tk" x="147.4" y="510.66" text-anchor="end" font-size="6.0">1.5</text><rect x="155.6" y="535.63" width="11.1" height="52.87" fill="#d2123a"/><path d="M161.5,588.5v2.5" stroke="#111" stroke-width="0.9"/><path d="M161.5,536.63V532.44M159.3,532.44H163.7" stroke="#111" stroke-width="0.85" fill="none"/><circle cx="159.15" cy="523.4" r="1" fill="#000"/><circle cx="163.15" cy="525.52" r="1" fill="#000"/><circle cx="161.15" cy="532.44" r="1" fill="#000"/><circle cx="158.15" cy="535.1" r="1" fill="#000"/><circle cx="164.15" cy="537.76" r="1" fill="#000"/><circle cx="161.15" cy="540.42" r="1" fill="#000"/><circle cx="161.15" cy="545.74" r="1" fill="#000"/><circle cx="161.15" cy="556.38" r="1" fill="#000"/><rect x="171.8" y="543.61" width="11.4" height="44.89" fill="#3cb54a"/><path d="M177.5,588.5v2.5" stroke="#111" stroke-width="0.9"/><path d="M177.5,544.61V540.42M175.3,540.42H179.7" stroke="#111" stroke-width="0.85" fill="none"/><circle cx="175.5" cy="535.1" r="1" fill="#000"/><circle cx="179.5" cy="536.16" r="1" fill="#000"/><circle cx="177.5" cy="539.36" r="1" fill="#000"/><circle cx="174.5" cy="543.08" r="1" fill="#000"/><circle cx="180.5" cy="545.74" r="1" fill="#000"/><circle cx="177.5" cy="548.4" r="1" fill="#000"/><circle cx="177.5" cy="556.38" r="1" fill="#000"/><circle cx="177.5" cy="564.36" r="1" fill="#000"/><path d="M160.5,521V518.5H177.5V531" stroke="#333" stroke-width="0.9" fill="none"/><text class="pv" x="169" y="517" text-anchor="middle" font-size="5.3" textLength="27" lengthAdjust="spacingAndGlyphs"><tspan font-style="italic">P</tspan> = .0400</text><text class="xl" transform="translate(163.65,596.9) rotate(-45)" text-anchor="end" font-size="5.6">NFU1</text><text class="xl" transform="translate(180,596.9) rotate(-45)" text-anchor="end" font-size="5.6">NFU1-LA</text><text class="yl" transform="translate(122.6,544.7) rotate(-90)" text-anchor="middle" font-size="7.0" textLength="71" lengthAdjust="spacingAndGlyphs">FITC-dextran extravasation,</text><text class="yl" transform="translate(132.2,545.1) rotate(-90)" text-anchor="middle" font-size="7.0" textLength="29.2" lengthAdjust="spacingAndGlyphs">fold control</text><path d="M226.5,502.4V588.5H260.2" stroke="#111" stroke-width="1" fill="none"/><path d="M223.5,588.5H226.5" stroke="#111" stroke-width="0.9"/><text class="tk" x="220.7" y="590.66" text-anchor="end" font-size="6.0">0</text><path d="M223.5,567.1H226.5" stroke="#111" stroke-width="0.9"/><text class="tk" x="220.7" y="569.26" text-anchor="end" font-size="6.0">10</text><path d="M223.5,545.7H226.5" stroke="#111" stroke-width="0.9"/><text class="tk" x="220.7" y="547.86" text-anchor="end" font-size="6.0">20</text><path d="M223.5,524.3H226.5" stroke="#111" stroke-width="0.9"/><text class="tk" x="220.7" y="526.46" text-anchor="end" font-size="6.0">30</text><path d="M223.5,502.9H226.5" stroke="#111" stroke-width="0.9"/><text class="tk" x="220.7" y="505.06" text-anchor="end" font-size="6.0">40</text><rect x="229.4" y="520.02" width="12.3" height="68.48" fill="#d2123a"/><path d="M235.5,588.5v2.5" stroke="#111" stroke-width="0.9"/><path d="M235.5,521.02V516.81M233.3,516.81H237.7" stroke="#111" stroke-width="0.85" fill="none"/><circle cx="237.55" cy="507.18" r="1" fill="#000"/><circle cx="233.55" cy="511.46" r="1" fill="#000"/><circle cx="237.55" cy="515.74" r="1" fill="#000"/><circle cx="235.55" cy="517.88" r="1" fill="#000"/><circle cx="232.55" cy="520.02" r="1" fill="#000"/><circle cx="238.55" cy="522.16" r="1" fill="#000"/><circle cx="235.55" cy="524.3" r="1" fill="#000"/><circle cx="233.55" cy="526.44" r="1" fill="#000"/><rect x="247" y="533.93" width="11.3" height="54.57" fill="#3cb54a"/><path d="M252.5,588.5v2.5" stroke="#111" stroke-width="0.9"/><path d="M252.5,534.93V531.79M250.3,531.79H254.7" stroke="#111" stroke-width="0.85" fill="none"/><circle cx="252.65" cy="526.44" r="1" fill="#000"/><circle cx="250.65" cy="528.58" r="1" fill="#000"/><circle cx="254.65" cy="530.72" r="1" fill="#000"/><circle cx="252.65" cy="532.86" r="1" fill="#000"/><circle cx="249.65" cy="535" r="1" fill="#000"/><circle cx="255.65" cy="536.07" r="1" fill="#000"/><circle cx="252.65" cy="537.14" r="1" fill="#000"/><circle cx="250.65" cy="539.28" r="1" fill="#000"/><path d="M235.5,509V507.5H253.5V525" stroke="#333" stroke-width="0.9" fill="none"/><text class="pv" x="244" y="503.8" text-anchor="middle" font-size="5.3" textLength="27" lengthAdjust="spacingAndGlyphs"><tspan font-style="italic">P</tspan> = .0002</text><text class="xl" transform="translate(238.05,597.1) rotate(-45)" text-anchor="end" font-size="5.6">NFU1</text><text class="xl" transform="translate(255.15,597.1) rotate(-45)" text-anchor="end" font-size="5.6">NFU1-LA</text><text class="yl" transform="translate(206.6,540.4) rotate(-90)" text-anchor="middle" font-size="7.0" textLength="37" lengthAdjust="spacingAndGlyphs">RVSP, mmHg</text><path d="M303.5,498.6V588.5H338.3" stroke="#111" stroke-width="1" fill="none"/><path d="M300.5,588.5H303.5" stroke="#111" stroke-width="0.9"/><text class="tk" x="297.8" y="590.66" text-anchor="end" font-size="6.0">0.0</text><path d="M300.5,566.15H303.5" stroke="#111" stroke-width="0.9"/><text class="tk" x="297.8" y="568.31" text-anchor="end" font-size="6.0">0.1</text><path d="M300.5,543.8H303.5" stroke="#111" stroke-width="0.9"/><text class="tk" x="297.8" y="545.96" text-anchor="end" font-size="6.0">0.2</text><path d="M300.5,521.45H303.5" stroke="#111" stroke-width="0.9"/><text class="tk" x="297.8" y="523.61" text-anchor="end" font-size="6.0">0.3</text><path d="M300.5,499.1H303.5" stroke="#111" stroke-width="0.9"/><text class="tk" x="297.8" y="501.26" text-anchor="end" font-size="6.0">0.4</text><rect x="307.4" y="523.68" width="11.9" height="64.82" fill="#d2123a"/><path d="M313.5,588.5v2.5" stroke="#111" stroke-width="0.9"/><path d="M313.5,524.68V521.45M311.3,521.45H315.7" stroke="#111" stroke-width="0.85" fill="none"/><circle cx="313.35" cy="518.1" r="1" fill="#000"/><circle cx="310.35" cy="520.33" r="1" fill="#000"/><circle cx="316.35" cy="521.45" r="1" fill="#000"/><circle cx="313.35" cy="522.12" r="1" fill="#000"/><circle cx="311.35" cy="523.68" r="1" fill="#000"/><circle cx="315.35" cy="524.8" r="1" fill="#000"/><circle cx="313.35" cy="525.92" r="1" fill="#000"/><rect x="325.6" y="529.5" width="11.7" height="59" fill="#3cb54a"/><path d="M331.5,588.5v2.5" stroke="#111" stroke-width="0.9"/><path d="M331.5,530.5V527.04M329.3,527.04H333.7" stroke="#111" stroke-width="0.85" fill="none"/><circle cx="331.45" cy="523.68" r="1" fill="#000"/><circle cx="328.45" cy="525.92" r="1" fill="#000"/><circle cx="334.45" cy="527.04" r="1" fill="#000"/><circle cx="331.45" cy="528.6" r="1" fill="#000"/><circle cx="329.45" cy="530.39" r="1" fill="#000"/><circle cx="333.45" cy="531.51" r="1" fill="#000"/><circle cx="331.45" cy="532.62" r="1" fill="#000"/><circle cx="331.45" cy="534.86" r="1" fill="#000"/><path d="M313.5,518V514.5H331.5V523" stroke="#333" stroke-width="0.9" fill="none"/><text class="pv" x="322.7" y="511.8" text-anchor="middle" font-size="5.3" textLength="27.4" lengthAdjust="spacingAndGlyphs"><tspan font-style="italic">P</tspan> = .0019</text><text class="xl" transform="translate(315.85,597.1) rotate(-45)" text-anchor="end" font-size="5.6">NFU1</text><text class="xl" transform="translate(333.6,597.1) rotate(-45)" text-anchor="end" font-size="5.6">NFU1-LA</text><text class="yl" transform="translate(284.2,540.2) rotate(-90)" text-anchor="middle" font-size="7.0" textLength="32.2" lengthAdjust="spacingAndGlyphs">Fulton index</text><path d="M453.5,506.9V588.5H485.4" stroke="#111" stroke-width="1" fill="none"/><path d="M450.5,588.5H453.5" stroke="#111" stroke-width="0.9"/><text class="tk" x="448.1" y="590.66" text-anchor="end" font-size="6.0">0</text><path d="M450.5,572.28H453.5" stroke="#111" stroke-width="0.9"/><text class="tk" x="448.1" y="574.44" text-anchor="end" font-size="6.0">20</text><path d="M450.5,556.06H453.5" stroke="#111" stroke-width="0.9"/><text class="tk" x="448.1" y="558.22" text-anchor="end" font-size="6.0">40</text><path d="M450.5,539.84H453.5" stroke="#111" stroke-width="0.9"/><text class="tk" x="448.1" y="542" text-anchor="end" font-size="6.0">60</text><path d="M450.5,523.62H453.5" stroke="#111" stroke-width="0.9"/><text class="tk" x="448.1" y="525.78" text-anchor="end" font-size="6.0">80</text><path d="M450.5,507.4H453.5" stroke="#111" stroke-width="0.9"/><text class="tk" x="448.1" y="509.56" text-anchor="end" font-size="6.0">100</text><rect x="456.9" y="526.86" width="10.4" height="61.64" fill="#d2123a"/><path d="M462.5,588.5v2.5" stroke="#111" stroke-width="0.9"/><path d="M462.5,527.86V525.24M460.3,525.24H464.7" stroke="#111" stroke-width="0.85" fill="none"/><circle cx="460.1" cy="522" r="1" fill="#000"/><circle cx="464.1" cy="522" r="1" fill="#000"/><circle cx="462.1" cy="525.24" r="1" fill="#000"/><circle cx="460.1" cy="526.86" r="1" fill="#000"/><circle cx="464.1" cy="527.67" r="1" fill="#000"/><rect x="473" y="541.87" width="11" height="46.63" fill="#3cb54a"/><path d="M478.5,588.5v2.5" stroke="#111" stroke-width="0.9"/><path d="M478.5,542.87V539.84M476.3,539.84H480.7" stroke="#111" stroke-width="0.85" fill="none"/><circle cx="476.5" cy="537.41" r="1" fill="#000"/><circle cx="480.5" cy="537.41" r="1" fill="#000"/><circle cx="478.5" cy="539.03" r="1" fill="#000"/><circle cx="475.5" cy="540.65" r="1" fill="#000"/><circle cx="481.5" cy="541.46" r="1" fill="#000"/><circle cx="478.5" cy="542.27" r="1" fill="#000"/><path d="M461.5,521V519.5H478.5V536.4" stroke="#333" stroke-width="0.9" fill="none"/><text class="pv" x="470.1" y="516.5" text-anchor="middle" font-size="5.3" textLength="26.5" lengthAdjust="spacingAndGlyphs"><tspan font-style="italic">P</tspan> &lt; .0001</text><text class="xl" transform="translate(464.7,597.1) rotate(-45)" text-anchor="end" font-size="5.6">NFU1</text><text class="xl" transform="translate(480.95,597.1) rotate(-45)" text-anchor="end" font-size="5.6">NFU1-LA</text><text class="yl" transform="translate(431,544.5) rotate(-90)" text-anchor="middle" font-size="7.0" textLength="48" lengthAdjust="spacingAndGlyphs">% Occlusion score</text>
<path d="M0,0H520V634H0Z M1.2,1.2V632.8H518.8V1.2Z" fill="#4a4a4a" fill-rule="evenodd"/>
</svg></body></html>
